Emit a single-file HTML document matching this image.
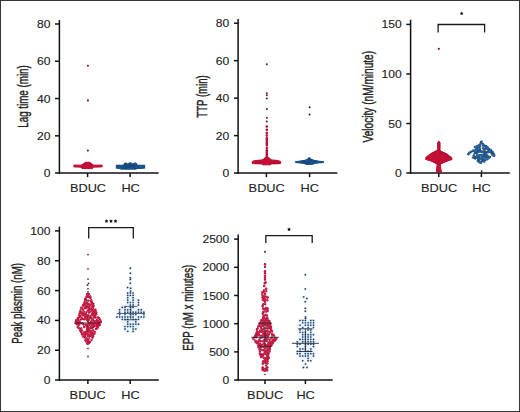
<!DOCTYPE html>
<html><head><meta charset="utf-8"><style>
html,body{margin:0;padding:0;background:#fff;}
#c{position:relative;width:520px;height:412px;overflow:hidden;background:#fff;}
#c svg{position:absolute;left:0;top:0;}
#b{position:absolute;left:0;top:0;width:518px;height:410px;border:1px solid #363636;}
text{font-family:"Liberation Sans", sans-serif;fill:#222;stroke:#222;stroke-width:0.12px;} text.v{stroke-width:0.32px;}
</style></head><body><div id="c">
<svg width="520" height="412" viewBox="0 0 520 412">
<line x1="59.40" y1="20.00" x2="59.40" y2="173.80" stroke="#111" stroke-width="1.5"/>
<line x1="55.00" y1="173.10" x2="158.60" y2="173.10" stroke="#111" stroke-width="1.5"/>
<text transform="translate(50.50,177.10) scale(1.1,1)" text-anchor="end" font-size="11">0</text>
<line x1="55.00" y1="135.82" x2="59.40" y2="135.82" stroke="#111" stroke-width="1.5"/>
<text transform="translate(50.50,139.82) scale(1.1,1)" text-anchor="end" font-size="11">20</text>
<line x1="55.00" y1="98.55" x2="59.40" y2="98.55" stroke="#111" stroke-width="1.5"/>
<text transform="translate(50.50,102.55) scale(1.1,1)" text-anchor="end" font-size="11">40</text>
<line x1="55.00" y1="61.27" x2="59.40" y2="61.27" stroke="#111" stroke-width="1.5"/>
<text transform="translate(50.50,65.27) scale(1.1,1)" text-anchor="end" font-size="11">60</text>
<line x1="55.00" y1="24.00" x2="59.40" y2="24.00" stroke="#111" stroke-width="1.5"/>
<text transform="translate(50.50,28.00) scale(1.1,1)" text-anchor="end" font-size="11">80</text>
<line x1="87.60" y1="173.10" x2="87.60" y2="177.10" stroke="#111" stroke-width="1.5"/>
<line x1="130.10" y1="173.10" x2="130.10" y2="177.10" stroke="#111" stroke-width="1.5"/>
<text transform="translate(88.00,192.00) scale(1.16,1)" text-anchor="middle" font-size="11">BDUC</text>
<text transform="translate(130.60,192.00) scale(1.16,1)" text-anchor="middle" font-size="11">HC</text>
<text class="v" transform="translate(28.40,96.50) scale(1.26,1) rotate(-90)" text-anchor="middle" font-size="11" textLength="62.5" lengthAdjust="spacingAndGlyphs">Lag time (min)</text>
<line x1="238.10" y1="18.90" x2="238.10" y2="173.80" stroke="#111" stroke-width="1.5"/>
<line x1="234.00" y1="173.10" x2="337.30" y2="173.10" stroke="#111" stroke-width="1.5"/>
<text transform="translate(229.20,177.10) scale(1.1,1)" text-anchor="end" font-size="11">0</text>
<line x1="234.00" y1="135.62" x2="238.10" y2="135.62" stroke="#111" stroke-width="1.5"/>
<text transform="translate(229.20,139.62) scale(1.1,1)" text-anchor="end" font-size="11">20</text>
<line x1="234.00" y1="98.15" x2="238.10" y2="98.15" stroke="#111" stroke-width="1.5"/>
<text transform="translate(229.20,102.15) scale(1.1,1)" text-anchor="end" font-size="11">40</text>
<line x1="234.00" y1="60.67" x2="238.10" y2="60.67" stroke="#111" stroke-width="1.5"/>
<text transform="translate(229.20,64.67) scale(1.1,1)" text-anchor="end" font-size="11">60</text>
<line x1="234.00" y1="23.20" x2="238.10" y2="23.20" stroke="#111" stroke-width="1.5"/>
<text transform="translate(229.20,27.20) scale(1.1,1)" text-anchor="end" font-size="11">80</text>
<line x1="266.40" y1="173.10" x2="266.40" y2="177.10" stroke="#111" stroke-width="1.5"/>
<line x1="309.60" y1="173.10" x2="309.60" y2="177.10" stroke="#111" stroke-width="1.5"/>
<text transform="translate(266.70,192.00) scale(1.16,1)" text-anchor="middle" font-size="11">BDUC</text>
<text transform="translate(309.70,192.00) scale(1.16,1)" text-anchor="middle" font-size="11">HC</text>
<text class="v" transform="translate(206.60,96.50) scale(1.26,1) rotate(-90)" text-anchor="middle" font-size="11" textLength="42.5" lengthAdjust="spacingAndGlyphs">TTP (min)</text>
<line x1="410.60" y1="19.70" x2="410.60" y2="173.80" stroke="#111" stroke-width="1.5"/>
<line x1="406.30" y1="173.10" x2="509.80" y2="173.10" stroke="#111" stroke-width="1.5"/>
<text transform="translate(401.70,177.10) scale(1.1,1)" text-anchor="end" font-size="11">0</text>
<line x1="406.30" y1="123.53" x2="410.60" y2="123.53" stroke="#111" stroke-width="1.5"/>
<text transform="translate(401.70,127.53) scale(1.1,1)" text-anchor="end" font-size="11">50</text>
<line x1="406.30" y1="73.97" x2="410.60" y2="73.97" stroke="#111" stroke-width="1.5"/>
<text transform="translate(401.70,77.97) scale(1.1,1)" text-anchor="end" font-size="11">100</text>
<line x1="406.30" y1="24.40" x2="410.60" y2="24.40" stroke="#111" stroke-width="1.5"/>
<text transform="translate(401.70,28.40) scale(1.1,1)" text-anchor="end" font-size="11">150</text>
<line x1="438.80" y1="173.10" x2="438.80" y2="177.10" stroke="#111" stroke-width="1.5"/>
<line x1="481.40" y1="173.10" x2="481.40" y2="177.10" stroke="#111" stroke-width="1.5"/>
<text transform="translate(439.10,192.00) scale(1.16,1)" text-anchor="middle" font-size="11">BDUC</text>
<text transform="translate(481.40,192.00) scale(1.16,1)" text-anchor="middle" font-size="11">HC</text>
<text class="v" transform="translate(372.70,96.70) scale(1.26,1) rotate(-90)" text-anchor="middle" font-size="11" textLength="91.6" lengthAdjust="spacingAndGlyphs">Velocity (nM/minute)</text>
<path d="M438.10 32.60 V24.50 H484.60 V32.60" fill="none" stroke="#1a1a1a" stroke-width="1.3"/>
<polygon points="461.70,11.55 462.33,12.63 463.55,12.90 462.72,13.83 462.85,15.08 461.70,14.57 460.55,15.08 460.68,13.83 459.85,12.90 461.07,12.63" fill="#111"/>
<line x1="59.40" y1="226.60" x2="59.40" y2="380.80" stroke="#111" stroke-width="1.5"/>
<line x1="55.00" y1="380.10" x2="158.80" y2="380.10" stroke="#111" stroke-width="1.5"/>
<text transform="translate(50.50,384.10) scale(1.1,1)" text-anchor="end" font-size="11">0</text>
<line x1="55.00" y1="350.26" x2="59.40" y2="350.26" stroke="#111" stroke-width="1.5"/>
<text transform="translate(50.50,354.26) scale(1.1,1)" text-anchor="end" font-size="11">20</text>
<line x1="55.00" y1="320.42" x2="59.40" y2="320.42" stroke="#111" stroke-width="1.5"/>
<text transform="translate(50.50,324.42) scale(1.1,1)" text-anchor="end" font-size="11">40</text>
<line x1="55.00" y1="290.58" x2="59.40" y2="290.58" stroke="#111" stroke-width="1.5"/>
<text transform="translate(50.50,294.58) scale(1.1,1)" text-anchor="end" font-size="11">60</text>
<line x1="55.00" y1="260.74" x2="59.40" y2="260.74" stroke="#111" stroke-width="1.5"/>
<text transform="translate(50.50,264.74) scale(1.1,1)" text-anchor="end" font-size="11">80</text>
<line x1="55.00" y1="230.90" x2="59.40" y2="230.90" stroke="#111" stroke-width="1.5"/>
<text transform="translate(50.50,234.90) scale(1.1,1)" text-anchor="end" font-size="11">100</text>
<line x1="87.90" y1="380.10" x2="87.90" y2="384.10" stroke="#111" stroke-width="1.5"/>
<line x1="130.20" y1="380.10" x2="130.20" y2="384.10" stroke="#111" stroke-width="1.5"/>
<text transform="translate(87.70,398.80) scale(1.16,1)" text-anchor="middle" font-size="11">BDUC</text>
<text transform="translate(130.40,398.80) scale(1.16,1)" text-anchor="middle" font-size="11">HC</text>
<text class="v" transform="translate(22.40,303.40) scale(1.26,1) rotate(-90)" text-anchor="middle" font-size="11" textLength="80.6" lengthAdjust="spacingAndGlyphs">Peak plasmin (nM)</text>
<path d="M88.70 238.50 V227.60 H133.30 V238.50" fill="none" stroke="#1a1a1a" stroke-width="1.3"/>
<polygon points="106.50,219.25 107.13,220.33 108.35,220.60 107.52,221.53 107.65,222.78 106.50,222.27 105.35,222.78 105.48,221.53 104.65,220.60 105.87,220.33" fill="#111"/>
<polygon points="111.00,219.25 111.63,220.33 112.85,220.60 112.02,221.53 112.15,222.78 111.00,222.27 109.85,222.78 109.98,221.53 109.15,220.60 110.37,220.33" fill="#111"/>
<polygon points="115.50,219.25 116.13,220.33 117.35,220.60 116.52,221.53 116.65,222.78 115.50,222.27 114.35,222.78 114.48,221.53 113.65,220.60 114.87,220.33" fill="#111"/>
<line x1="238.20" y1="234.60" x2="238.20" y2="380.80" stroke="#111" stroke-width="1.5"/>
<line x1="234.10" y1="380.10" x2="332.70" y2="380.10" stroke="#111" stroke-width="1.5"/>
<text transform="translate(229.30,384.10) scale(1.1,1)" text-anchor="end" font-size="11">0</text>
<line x1="234.10" y1="351.90" x2="238.20" y2="351.90" stroke="#111" stroke-width="1.5"/>
<text transform="translate(229.30,355.90) scale(1.1,1)" text-anchor="end" font-size="11">500</text>
<line x1="234.10" y1="323.70" x2="238.20" y2="323.70" stroke="#111" stroke-width="1.5"/>
<text transform="translate(229.30,327.70) scale(1.1,1)" text-anchor="end" font-size="11">1000</text>
<line x1="234.10" y1="295.50" x2="238.20" y2="295.50" stroke="#111" stroke-width="1.5"/>
<text transform="translate(229.30,299.50) scale(1.1,1)" text-anchor="end" font-size="11">1500</text>
<line x1="234.10" y1="267.30" x2="238.20" y2="267.30" stroke="#111" stroke-width="1.5"/>
<text transform="translate(229.30,271.30) scale(1.1,1)" text-anchor="end" font-size="11">2000</text>
<line x1="234.10" y1="239.10" x2="238.20" y2="239.10" stroke="#111" stroke-width="1.5"/>
<text transform="translate(229.30,243.10) scale(1.1,1)" text-anchor="end" font-size="11">2500</text>
<line x1="265.00" y1="380.10" x2="265.00" y2="384.10" stroke="#111" stroke-width="1.5"/>
<line x1="305.40" y1="380.10" x2="305.40" y2="384.10" stroke="#111" stroke-width="1.5"/>
<text transform="translate(265.20,398.80) scale(1.16,1)" text-anchor="middle" font-size="11">BDUC</text>
<text transform="translate(305.60,398.80) scale(1.16,1)" text-anchor="middle" font-size="11">HC</text>
<text class="v" transform="translate(193.40,307.70) scale(1.26,1) rotate(-90)" text-anchor="middle" font-size="11" textLength="85.9" lengthAdjust="spacingAndGlyphs">EPP (nM x minutes)</text>
<path d="M265.80 243.10 V235.60 H312.20 V243.10" fill="none" stroke="#1a1a1a" stroke-width="1.3"/>
<polygon points="289.00,227.45 289.63,228.53 290.85,228.80 290.02,229.73 290.15,230.98 289.00,230.47 287.85,230.98 287.98,229.73 287.15,228.80 288.37,228.53" fill="#111"/>
<polygon points="85.50,162.20 89.80,162.20 91.70,163.70 93.50,164.90 102.20,164.90 102.20,167.10 93.50,167.30 92.50,168.60 82.00,168.60 80.90,167.30 73.80,167.10 73.80,164.90 82.00,164.90 83.10,163.70 85.50,162.20" fill="#9a1438" stroke="#9a1438" stroke-width="0.60" stroke-linejoin="round"/>
<circle cx="88.00" cy="163.62" r="1.30" fill="#9a1438"/>
<circle cx="87.28" cy="165.43" r="1.30" fill="#9a1438"/>
<circle cx="84.31" cy="166.95" r="1.30" fill="#9a1438"/>
<circle cx="85.97" cy="166.88" r="1.30" fill="#9a1438"/>
<circle cx="87.98" cy="167.03" r="1.30" fill="#9a1438"/>
<circle cx="91.86" cy="167.15" r="1.30" fill="#9a1438"/>
<circle cx="81.76" cy="166.00" r="1.30" fill="#9a1438"/>
<circle cx="85.10" cy="167.38" r="1.30" fill="#9a1438"/>
<circle cx="87.06" cy="167.39" r="1.30" fill="#9a1438"/>
<circle cx="89.11" cy="167.53" r="1.30" fill="#9a1438"/>
<circle cx="90.79" cy="167.43" r="1.30" fill="#9a1438"/>
<circle cx="86.39" cy="163.35" r="1.30" fill="#9a1438"/>
<circle cx="83.21" cy="165.43" r="1.30" fill="#9a1438"/>
<polygon points="85.50,162.20 89.80,162.20 91.70,163.70 93.50,164.90 102.20,164.90 102.20,167.10 93.50,167.30 92.50,168.60 82.00,168.60 80.90,167.30 73.80,167.10 73.80,164.90 82.00,164.90 83.10,163.70 85.50,162.20" fill="#cc0f35"/>
<circle cx="86.01" cy="163.86" r="1.00" fill="#cc0f35" stroke="#9a1438" stroke-width="0.48"/>
<circle cx="88.00" cy="163.62" r="1.0" fill="#cc0f35"/>
<circle cx="83.27" cy="165.23" r="1.00" fill="#cc0f35" stroke="#9a1438" stroke-width="0.48"/>
<circle cx="85.33" cy="165.25" r="1.00" fill="#cc0f35" stroke="#9a1438" stroke-width="0.48"/>
<circle cx="87.28" cy="165.43" r="1.0" fill="#cc0f35"/>
<circle cx="91.04" cy="165.32" r="1.00" fill="#cc0f35" stroke="#9a1438" stroke-width="0.48"/>
<circle cx="82.27" cy="167.13" r="1.00" fill="#cc0f35" stroke="#9a1438" stroke-width="0.48"/>
<circle cx="84.31" cy="166.95" r="1.0" fill="#cc0f35"/>
<circle cx="85.97" cy="166.88" r="1.0" fill="#cc0f35"/>
<circle cx="87.98" cy="167.03" r="1.0" fill="#cc0f35"/>
<circle cx="90.07" cy="167.08" r="1.00" fill="#cc0f35" stroke="#9a1438" stroke-width="0.48"/>
<circle cx="91.86" cy="167.15" r="1.0" fill="#cc0f35"/>
<circle cx="81.76" cy="166.00" r="1.0" fill="#cc0f35"/>
<circle cx="82.86" cy="167.35" r="1.00" fill="#cc0f35" stroke="#9a1438" stroke-width="0.48"/>
<circle cx="85.10" cy="167.38" r="1.0" fill="#cc0f35"/>
<circle cx="87.06" cy="167.39" r="1.0" fill="#cc0f35"/>
<circle cx="89.11" cy="167.53" r="1.0" fill="#cc0f35"/>
<circle cx="90.79" cy="167.43" r="1.0" fill="#cc0f35"/>
<circle cx="90.23" cy="164.23" r="1.00" fill="#cc0f35" stroke="#9a1438" stroke-width="0.48"/>
<circle cx="88.40" cy="163.30" r="1.00" fill="#cc0f35" stroke="#9a1438" stroke-width="0.48"/>
<circle cx="86.39" cy="163.35" r="1.0" fill="#cc0f35"/>
<circle cx="83.21" cy="165.43" r="1.0" fill="#cc0f35"/>
<circle cx="87.90" cy="65.70" r="1.05" fill="#6e1a36"/>
<circle cx="87.90" cy="100.40" r="1.05" fill="#6e1a36"/>
<circle cx="87.90" cy="150.60" r="1.05" fill="#6e1a36"/>
<polygon points="124.70,162.90 126.70,162.90 127.50,164.00 129.30,162.80 131.30,162.80 132.50,164.00 134.20,162.90 136.20,162.90 137.50,165.10 144.80,165.10 144.80,168.20 138.00,168.40 136.00,169.20 121.00,169.20 119.00,168.40 116.20,168.20 116.20,165.10 123.50,165.10 124.70,162.90" fill="#153c66" stroke="#153c66" stroke-width="0.60" stroke-linejoin="round"/>
<circle cx="125.67" cy="165.94" r="1.30" fill="#153c66"/>
<circle cx="133.25" cy="166.03" r="1.30" fill="#153c66"/>
<circle cx="135.21" cy="166.05" r="1.30" fill="#153c66"/>
<circle cx="121.11" cy="167.71" r="1.30" fill="#153c66"/>
<circle cx="132.21" cy="167.50" r="1.30" fill="#153c66"/>
<circle cx="134.10" cy="167.74" r="1.30" fill="#153c66"/>
<circle cx="122.64" cy="166.36" r="1.30" fill="#153c66"/>
<circle cx="117.46" cy="166.96" r="1.30" fill="#153c66"/>
<circle cx="119.34" cy="167.36" r="1.30" fill="#153c66"/>
<circle cx="124.83" cy="167.96" r="1.30" fill="#153c66"/>
<circle cx="129.04" cy="167.93" r="1.30" fill="#153c66"/>
<circle cx="136.67" cy="167.76" r="1.30" fill="#153c66"/>
<circle cx="140.62" cy="167.19" r="1.30" fill="#153c66"/>
<circle cx="142.28" cy="167.14" r="1.30" fill="#153c66"/>
<circle cx="139.41" cy="166.53" r="1.30" fill="#153c66"/>
<circle cx="137.34" cy="166.21" r="1.30" fill="#153c66"/>
<circle cx="134.96" cy="164.34" r="1.30" fill="#153c66"/>
<circle cx="130.03" cy="164.22" r="1.30" fill="#153c66"/>
<polygon points="124.70,162.90 126.70,162.90 127.50,164.00 129.30,162.80 131.30,162.80 132.50,164.00 134.20,162.90 136.20,162.90 137.50,165.10 144.80,165.10 144.80,168.20 138.00,168.40 136.00,169.20 121.00,169.20 119.00,168.40 116.20,168.20 116.20,165.10 123.50,165.10 124.70,162.90" fill="#18558f"/>
<circle cx="125.67" cy="165.94" r="1.0" fill="#18558f"/>
<circle cx="129.37" cy="165.89" r="1.00" fill="#18558f" stroke="#153c66" stroke-width="0.48"/>
<circle cx="131.44" cy="165.91" r="1.00" fill="#18558f" stroke="#153c66" stroke-width="0.48"/>
<circle cx="133.25" cy="166.03" r="1.0" fill="#18558f"/>
<circle cx="135.21" cy="166.05" r="1.0" fill="#18558f"/>
<circle cx="121.11" cy="167.71" r="1.0" fill="#18558f"/>
<circle cx="122.81" cy="167.56" r="1.00" fill="#18558f" stroke="#153c66" stroke-width="0.48"/>
<circle cx="124.57" cy="167.43" r="1.00" fill="#18558f" stroke="#153c66" stroke-width="0.48"/>
<circle cx="126.59" cy="167.42" r="1.00" fill="#18558f" stroke="#153c66" stroke-width="0.48"/>
<circle cx="128.39" cy="167.55" r="1.00" fill="#18558f" stroke="#153c66" stroke-width="0.48"/>
<circle cx="132.21" cy="167.50" r="1.0" fill="#18558f"/>
<circle cx="134.10" cy="167.74" r="1.0" fill="#18558f"/>
<circle cx="136.14" cy="167.43" r="1.00" fill="#18558f" stroke="#153c66" stroke-width="0.48"/>
<circle cx="125.35" cy="164.28" r="1.00" fill="#18558f" stroke="#153c66" stroke-width="0.48"/>
<circle cx="124.68" cy="165.88" r="1.00" fill="#18558f" stroke="#153c66" stroke-width="0.48"/>
<circle cx="122.64" cy="166.36" r="1.0" fill="#18558f"/>
<circle cx="118.82" cy="166.30" r="1.00" fill="#18558f" stroke="#153c66" stroke-width="0.48"/>
<circle cx="117.46" cy="166.96" r="1.0" fill="#18558f"/>
<circle cx="119.34" cy="167.36" r="1.0" fill="#18558f"/>
<circle cx="124.83" cy="167.96" r="1.0" fill="#18558f"/>
<circle cx="126.71" cy="167.86" r="1.00" fill="#18558f" stroke="#153c66" stroke-width="0.48"/>
<circle cx="129.04" cy="167.93" r="1.0" fill="#18558f"/>
<circle cx="134.62" cy="167.84" r="1.00" fill="#18558f" stroke="#153c66" stroke-width="0.48"/>
<circle cx="136.67" cy="167.76" r="1.0" fill="#18558f"/>
<circle cx="138.56" cy="167.25" r="1.00" fill="#18558f" stroke="#153c66" stroke-width="0.48"/>
<circle cx="140.62" cy="167.19" r="1.0" fill="#18558f"/>
<circle cx="142.28" cy="167.14" r="1.0" fill="#18558f"/>
<circle cx="139.41" cy="166.53" r="1.0" fill="#18558f"/>
<circle cx="137.34" cy="166.21" r="1.0" fill="#18558f"/>
<circle cx="134.96" cy="164.34" r="1.0" fill="#18558f"/>
<circle cx="133.16" cy="164.92" r="1.00" fill="#18558f" stroke="#153c66" stroke-width="0.48"/>
<circle cx="130.03" cy="164.22" r="1.0" fill="#18558f"/>
<polygon points="265.70,156.70 268.10,156.70 269.60,158.50 271.60,159.70 276.00,160.20 279.00,160.80 280.70,161.40 280.70,163.50 279.00,163.80 271.40,164.10 270.30,165.00 263.00,165.00 262.00,164.10 254.00,163.80 252.20,163.50 252.20,161.40 254.00,160.80 258.00,160.20 262.30,159.70 264.30,158.50 265.70,156.70" fill="#9a1438" stroke="#9a1438" stroke-width="0.60" stroke-linejoin="round"/>
<circle cx="269.28" cy="159.93" r="1.30" fill="#9a1438"/>
<circle cx="259.02" cy="161.50" r="1.30" fill="#9a1438"/>
<circle cx="262.77" cy="161.37" r="1.30" fill="#9a1438"/>
<circle cx="264.57" cy="161.43" r="1.30" fill="#9a1438"/>
<circle cx="266.56" cy="161.34" r="1.30" fill="#9a1438"/>
<circle cx="268.26" cy="161.61" r="1.30" fill="#9a1438"/>
<circle cx="270.35" cy="161.66" r="1.30" fill="#9a1438"/>
<circle cx="272.15" cy="161.50" r="1.30" fill="#9a1438"/>
<circle cx="274.06" cy="161.49" r="1.30" fill="#9a1438"/>
<circle cx="267.47" cy="163.21" r="1.30" fill="#9a1438"/>
<circle cx="263.67" cy="160.40" r="1.30" fill="#9a1438"/>
<circle cx="257.89" cy="161.48" r="1.30" fill="#9a1438"/>
<circle cx="254.11" cy="161.88" r="1.30" fill="#9a1438"/>
<circle cx="254.49" cy="162.39" r="1.30" fill="#9a1438"/>
<circle cx="262.31" cy="162.88" r="1.30" fill="#9a1438"/>
<circle cx="263.54" cy="163.83" r="1.30" fill="#9a1438"/>
<circle cx="265.80" cy="163.80" r="1.30" fill="#9a1438"/>
<circle cx="267.68" cy="163.58" r="1.30" fill="#9a1438"/>
<circle cx="269.39" cy="163.77" r="1.30" fill="#9a1438"/>
<circle cx="278.51" cy="162.65" r="1.30" fill="#9a1438"/>
<circle cx="274.74" cy="161.45" r="1.30" fill="#9a1438"/>
<circle cx="272.92" cy="161.29" r="1.30" fill="#9a1438"/>
<circle cx="269.39" cy="159.76" r="1.30" fill="#9a1438"/>
<circle cx="267.82" cy="158.32" r="1.30" fill="#9a1438"/>
<circle cx="266.80" cy="126.50" r="1.25" fill="#9a1438"/>
<circle cx="266.80" cy="129.80" r="1.25" fill="#9a1438"/>
<circle cx="266.80" cy="133.00" r="1.25" fill="#9a1438"/>
<circle cx="266.80" cy="135.60" r="1.25" fill="#9a1438"/>
<circle cx="266.80" cy="138.20" r="1.25" fill="#9a1438"/>
<circle cx="266.80" cy="140.00" r="1.25" fill="#9a1438"/>
<circle cx="266.80" cy="141.70" r="1.25" fill="#9a1438"/>
<circle cx="266.80" cy="143.40" r="1.25" fill="#9a1438"/>
<circle cx="266.80" cy="145.10" r="1.25" fill="#9a1438"/>
<circle cx="266.80" cy="147.70" r="1.25" fill="#9a1438"/>
<circle cx="266.80" cy="150.30" r="1.25" fill="#9a1438"/>
<circle cx="266.80" cy="152.00" r="1.25" fill="#9a1438"/>
<circle cx="266.80" cy="153.70" r="1.25" fill="#9a1438"/>
<circle cx="266.80" cy="155.50" r="1.25" fill="#9a1438"/>
<polygon points="265.70,156.70 268.10,156.70 269.60,158.50 271.60,159.70 276.00,160.20 279.00,160.80 280.70,161.40 280.70,163.50 279.00,163.80 271.40,164.10 270.30,165.00 263.00,165.00 262.00,164.10 254.00,163.80 252.20,163.50 252.20,161.40 254.00,160.80 258.00,160.20 262.30,159.70 264.30,158.50 265.70,156.70" fill="#cc0f35"/>
<circle cx="266.35" cy="158.22" r="1.00" fill="#cc0f35" stroke="#9a1438" stroke-width="0.48"/>
<circle cx="265.40" cy="159.87" r="1.00" fill="#cc0f35" stroke="#9a1438" stroke-width="0.48"/>
<circle cx="269.28" cy="159.93" r="1.0" fill="#cc0f35"/>
<circle cx="259.02" cy="161.50" r="1.0" fill="#cc0f35"/>
<circle cx="260.56" cy="161.48" r="1.00" fill="#cc0f35" stroke="#9a1438" stroke-width="0.48"/>
<circle cx="262.77" cy="161.37" r="1.0" fill="#cc0f35"/>
<circle cx="264.57" cy="161.43" r="1.0" fill="#cc0f35"/>
<circle cx="266.56" cy="161.34" r="1.0" fill="#cc0f35"/>
<circle cx="268.26" cy="161.61" r="1.0" fill="#cc0f35"/>
<circle cx="270.35" cy="161.66" r="1.0" fill="#cc0f35"/>
<circle cx="272.15" cy="161.50" r="1.0" fill="#cc0f35"/>
<circle cx="274.06" cy="161.49" r="1.0" fill="#cc0f35"/>
<circle cx="276.10" cy="161.68" r="1.00" fill="#cc0f35" stroke="#9a1438" stroke-width="0.48"/>
<circle cx="263.78" cy="163.24" r="1.00" fill="#cc0f35" stroke="#9a1438" stroke-width="0.48"/>
<circle cx="265.48" cy="162.93" r="1.00" fill="#cc0f35" stroke="#9a1438" stroke-width="0.48"/>
<circle cx="267.47" cy="163.21" r="1.0" fill="#cc0f35"/>
<circle cx="269.39" cy="163.16" r="1.00" fill="#cc0f35" stroke="#9a1438" stroke-width="0.48"/>
<circle cx="263.67" cy="160.40" r="1.0" fill="#cc0f35"/>
<circle cx="257.89" cy="161.48" r="1.0" fill="#cc0f35"/>
<circle cx="255.95" cy="161.85" r="1.00" fill="#cc0f35" stroke="#9a1438" stroke-width="0.48"/>
<circle cx="254.11" cy="161.88" r="1.0" fill="#cc0f35"/>
<circle cx="254.49" cy="162.39" r="1.0" fill="#cc0f35"/>
<circle cx="256.59" cy="162.48" r="1.00" fill="#cc0f35" stroke="#9a1438" stroke-width="0.48"/>
<circle cx="258.43" cy="162.62" r="1.00" fill="#cc0f35" stroke="#9a1438" stroke-width="0.48"/>
<circle cx="260.39" cy="162.91" r="1.00" fill="#cc0f35" stroke="#9a1438" stroke-width="0.48"/>
<circle cx="262.31" cy="162.88" r="1.0" fill="#cc0f35"/>
<circle cx="263.54" cy="163.83" r="1.0" fill="#cc0f35"/>
<circle cx="265.80" cy="163.80" r="1.0" fill="#cc0f35"/>
<circle cx="267.68" cy="163.58" r="1.0" fill="#cc0f35"/>
<circle cx="269.39" cy="163.77" r="1.0" fill="#cc0f35"/>
<circle cx="270.90" cy="162.87" r="1.00" fill="#cc0f35" stroke="#9a1438" stroke-width="0.48"/>
<circle cx="272.83" cy="162.61" r="1.00" fill="#cc0f35" stroke="#9a1438" stroke-width="0.48"/>
<circle cx="274.80" cy="162.82" r="1.00" fill="#cc0f35" stroke="#9a1438" stroke-width="0.48"/>
<circle cx="276.66" cy="162.58" r="1.00" fill="#cc0f35" stroke="#9a1438" stroke-width="0.48"/>
<circle cx="278.51" cy="162.65" r="1.0" fill="#cc0f35"/>
<circle cx="278.50" cy="162.15" r="1.00" fill="#cc0f35" stroke="#9a1438" stroke-width="0.48"/>
<circle cx="274.74" cy="161.45" r="1.0" fill="#cc0f35"/>
<circle cx="272.92" cy="161.29" r="1.0" fill="#cc0f35"/>
<circle cx="269.39" cy="159.76" r="1.0" fill="#cc0f35"/>
<circle cx="267.82" cy="158.32" r="1.0" fill="#cc0f35"/>
<circle cx="266.80" cy="64.30" r="1.0" fill="#5e1934"/>
<circle cx="266.80" cy="93.30" r="1.0" fill="#5e1934"/>
<circle cx="266.80" cy="95.30" r="1.0" fill="#5e1934"/>
<circle cx="266.80" cy="98.60" r="1.0" fill="#5e1934"/>
<circle cx="266.80" cy="108.90" r="1.0" fill="#5e1934"/>
<circle cx="266.80" cy="117.80" r="1.0" fill="#5e1934"/>
<circle cx="266.80" cy="121.40" r="1.0" fill="#5e1934"/>
<circle cx="266.80" cy="126.50" r="0.95" fill="#cc0f35"/>
<circle cx="266.80" cy="129.80" r="0.95" fill="#cc0f35"/>
<circle cx="266.80" cy="133.00" r="0.95" fill="#cc0f35"/>
<circle cx="266.80" cy="135.60" r="0.95" fill="#cc0f35"/>
<circle cx="266.80" cy="138.20" r="0.95" fill="#cc0f35"/>
<circle cx="266.80" cy="140.00" r="0.95" fill="#cc0f35"/>
<circle cx="266.80" cy="141.70" r="0.95" fill="#cc0f35"/>
<circle cx="266.80" cy="143.40" r="0.95" fill="#cc0f35"/>
<circle cx="266.80" cy="145.10" r="0.95" fill="#cc0f35"/>
<circle cx="266.80" cy="147.70" r="0.95" fill="#cc0f35"/>
<circle cx="266.80" cy="150.30" r="0.95" fill="#cc0f35"/>
<circle cx="266.80" cy="152.00" r="0.95" fill="#cc0f35"/>
<circle cx="266.80" cy="153.70" r="0.95" fill="#cc0f35"/>
<circle cx="266.80" cy="155.50" r="0.95" fill="#cc0f35"/>
<polygon points="308.60,157.70 310.00,157.70 311.60,159.50 315.50,160.60 319.00,161.10 323.50,161.60 323.50,162.70 319.00,163.00 314.60,163.40 312.80,164.40 305.80,164.40 304.10,163.40 299.00,163.00 295.50,162.70 295.50,161.60 299.00,161.10 303.20,160.60 307.00,159.50 308.60,157.70" fill="#153c66" stroke="#153c66" stroke-width="0.60" stroke-linejoin="round"/>
<circle cx="308.70" cy="161.09" r="1.30" fill="#153c66"/>
<circle cx="310.50" cy="160.85" r="1.30" fill="#153c66"/>
<circle cx="309.67" cy="162.39" r="1.30" fill="#153c66"/>
<circle cx="311.75" cy="162.56" r="1.30" fill="#153c66"/>
<circle cx="304.08" cy="161.96" r="1.30" fill="#153c66"/>
<circle cx="309.55" cy="163.28" r="1.30" fill="#153c66"/>
<circle cx="313.45" cy="162.77" r="1.30" fill="#153c66"/>
<circle cx="314.90" cy="161.95" r="1.30" fill="#153c66"/>
<circle cx="315.84" cy="161.92" r="1.30" fill="#153c66"/>
<circle cx="312.08" cy="160.91" r="1.30" fill="#153c66"/>
<circle cx="307.90" cy="160.59" r="1.30" fill="#153c66"/>
<circle cx="305.93" cy="161.24" r="1.30" fill="#153c66"/>
<polygon points="308.60,157.70 310.00,157.70 311.60,159.50 315.50,160.60 319.00,161.10 323.50,161.60 323.50,162.70 319.00,163.00 314.60,163.40 312.80,164.40 305.80,164.40 304.10,163.40 299.00,163.00 295.50,162.70 295.50,161.60 299.00,161.10 303.20,160.60 307.00,159.50 308.60,157.70" fill="#18558f"/>
<circle cx="308.70" cy="161.09" r="1.0" fill="#18558f"/>
<circle cx="310.50" cy="160.85" r="1.0" fill="#18558f"/>
<circle cx="305.83" cy="162.50" r="1.00" fill="#18558f" stroke="#153c66" stroke-width="0.48"/>
<circle cx="307.69" cy="162.46" r="1.00" fill="#18558f" stroke="#153c66" stroke-width="0.48"/>
<circle cx="309.67" cy="162.39" r="1.0" fill="#18558f"/>
<circle cx="311.75" cy="162.56" r="1.0" fill="#18558f"/>
<circle cx="302.03" cy="162.18" r="1.00" fill="#18558f" stroke="#153c66" stroke-width="0.48"/>
<circle cx="304.08" cy="161.96" r="1.0" fill="#18558f"/>
<circle cx="307.72" cy="163.27" r="1.00" fill="#18558f" stroke="#153c66" stroke-width="0.48"/>
<circle cx="309.55" cy="163.28" r="1.0" fill="#18558f"/>
<circle cx="313.45" cy="162.77" r="1.0" fill="#18558f"/>
<circle cx="314.90" cy="161.95" r="1.0" fill="#18558f"/>
<circle cx="315.84" cy="161.92" r="1.0" fill="#18558f"/>
<circle cx="313.91" cy="161.42" r="1.00" fill="#18558f" stroke="#153c66" stroke-width="0.48"/>
<circle cx="312.08" cy="160.91" r="1.0" fill="#18558f"/>
<circle cx="310.19" cy="160.09" r="1.00" fill="#18558f" stroke="#153c66" stroke-width="0.48"/>
<circle cx="308.89" cy="159.24" r="1.00" fill="#18558f" stroke="#153c66" stroke-width="0.48"/>
<circle cx="307.90" cy="160.59" r="1.0" fill="#18558f"/>
<circle cx="305.93" cy="161.24" r="1.0" fill="#18558f"/>
<circle cx="303.83" cy="161.53" r="1.00" fill="#18558f" stroke="#153c66" stroke-width="0.48"/>
<circle cx="309.60" cy="107.20" r="1.0" fill="#141d2b"/>
<circle cx="309.50" cy="114.50" r="1.0" fill="#141d2b"/>
<polygon points="438.30,141.40 439.50,141.40 440.10,143.00 440.00,149.80 440.60,150.90 443.40,152.30 446.90,153.80 448.80,155.50 451.20,157.20 452.20,159.50 447.60,161.00 443.60,162.70 440.30,164.20 440.70,168.50 441.60,172.30 436.20,172.30 436.70,168.50 437.00,164.20 434.40,162.70 430.90,161.00 425.70,159.50 425.80,157.20 428.20,155.50 430.60,153.80 433.00,152.30 436.00,150.90 437.70,149.80 437.70,143.00 438.30,141.40" fill="#9a1438" stroke="#9a1438" stroke-width="0.70" stroke-linejoin="round"/>
<circle cx="436.94" cy="151.56" r="1.35" fill="#9a1438"/>
<circle cx="438.84" cy="151.49" r="1.35" fill="#9a1438"/>
<circle cx="436.13" cy="153.27" r="1.35" fill="#9a1438"/>
<circle cx="437.86" cy="153.48" r="1.35" fill="#9a1438"/>
<circle cx="439.88" cy="153.25" r="1.35" fill="#9a1438"/>
<circle cx="441.74" cy="153.33" r="1.35" fill="#9a1438"/>
<circle cx="433.24" cy="154.88" r="1.35" fill="#9a1438"/>
<circle cx="437.19" cy="155.15" r="1.35" fill="#9a1438"/>
<circle cx="442.76" cy="155.06" r="1.35" fill="#9a1438"/>
<circle cx="432.27" cy="156.57" r="1.35" fill="#9a1438"/>
<circle cx="438.13" cy="156.54" r="1.35" fill="#9a1438"/>
<circle cx="442.05" cy="156.58" r="1.35" fill="#9a1438"/>
<circle cx="443.73" cy="156.82" r="1.35" fill="#9a1438"/>
<circle cx="447.48" cy="156.79" r="1.35" fill="#9a1438"/>
<circle cx="431.26" cy="158.49" r="1.35" fill="#9a1438"/>
<circle cx="435.10" cy="158.51" r="1.35" fill="#9a1438"/>
<circle cx="438.82" cy="158.25" r="1.35" fill="#9a1438"/>
<circle cx="442.72" cy="158.27" r="1.35" fill="#9a1438"/>
<circle cx="444.71" cy="158.54" r="1.35" fill="#9a1438"/>
<circle cx="446.69" cy="158.38" r="1.35" fill="#9a1438"/>
<circle cx="448.35" cy="158.25" r="1.35" fill="#9a1438"/>
<circle cx="450.58" cy="158.48" r="1.35" fill="#9a1438"/>
<circle cx="432.49" cy="159.95" r="1.35" fill="#9a1438"/>
<circle cx="434.20" cy="160.02" r="1.35" fill="#9a1438"/>
<circle cx="436.17" cy="160.00" r="1.35" fill="#9a1438"/>
<circle cx="438.18" cy="159.91" r="1.35" fill="#9a1438"/>
<circle cx="439.85" cy="159.98" r="1.35" fill="#9a1438"/>
<circle cx="441.81" cy="160.23" r="1.35" fill="#9a1438"/>
<circle cx="443.64" cy="160.04" r="1.35" fill="#9a1438"/>
<circle cx="435.19" cy="161.80" r="1.35" fill="#9a1438"/>
<circle cx="436.97" cy="161.61" r="1.35" fill="#9a1438"/>
<circle cx="441.00" cy="161.72" r="1.35" fill="#9a1438"/>
<circle cx="439.03" cy="165.08" r="1.35" fill="#9a1438"/>
<circle cx="438.23" cy="166.97" r="1.35" fill="#9a1438"/>
<circle cx="438.92" cy="168.56" r="1.35" fill="#9a1438"/>
<circle cx="437.94" cy="170.26" r="1.35" fill="#9a1438"/>
<circle cx="440.03" cy="170.12" r="1.35" fill="#9a1438"/>
<circle cx="438.83" cy="143.13" r="1.35" fill="#9a1438"/>
<circle cx="438.70" cy="144.82" r="1.35" fill="#9a1438"/>
<circle cx="438.79" cy="150.46" r="1.35" fill="#9a1438"/>
<circle cx="437.14" cy="151.68" r="1.35" fill="#9a1438"/>
<circle cx="433.47" cy="153.24" r="1.35" fill="#9a1438"/>
<circle cx="431.98" cy="154.18" r="1.35" fill="#9a1438"/>
<circle cx="430.57" cy="155.08" r="1.35" fill="#9a1438"/>
<circle cx="428.83" cy="156.50" r="1.35" fill="#9a1438"/>
<circle cx="427.45" cy="158.79" r="1.35" fill="#9a1438"/>
<circle cx="429.11" cy="159.20" r="1.35" fill="#9a1438"/>
<circle cx="431.11" cy="159.72" r="1.35" fill="#9a1438"/>
<circle cx="432.64" cy="160.83" r="1.35" fill="#9a1438"/>
<circle cx="434.33" cy="161.46" r="1.35" fill="#9a1438"/>
<circle cx="438.15" cy="164.88" r="1.35" fill="#9a1438"/>
<circle cx="437.88" cy="168.86" r="1.35" fill="#9a1438"/>
<circle cx="438.82" cy="171.34" r="1.35" fill="#9a1438"/>
<circle cx="439.92" cy="170.70" r="1.35" fill="#9a1438"/>
<circle cx="439.79" cy="168.78" r="1.35" fill="#9a1438"/>
<circle cx="439.35" cy="166.88" r="1.35" fill="#9a1438"/>
<circle cx="439.28" cy="165.10" r="1.35" fill="#9a1438"/>
<circle cx="443.05" cy="161.88" r="1.35" fill="#9a1438"/>
<circle cx="444.77" cy="160.87" r="1.35" fill="#9a1438"/>
<circle cx="446.70" cy="160.20" r="1.35" fill="#9a1438"/>
<circle cx="448.47" cy="159.54" r="1.35" fill="#9a1438"/>
<circle cx="450.03" cy="158.86" r="1.35" fill="#9a1438"/>
<circle cx="450.12" cy="157.82" r="1.35" fill="#9a1438"/>
<circle cx="438.98" cy="150.68" r="1.35" fill="#9a1438"/>
<circle cx="438.99" cy="146.90" r="1.35" fill="#9a1438"/>
<polygon points="438.30,141.40 439.50,141.40 440.10,143.00 440.00,149.80 440.60,150.90 443.40,152.30 446.90,153.80 448.80,155.50 451.20,157.20 452.20,159.50 447.60,161.00 443.60,162.70 440.30,164.20 440.70,168.50 441.60,172.30 436.20,172.30 436.70,168.50 437.00,164.20 434.40,162.70 430.90,161.00 425.70,159.50 425.80,157.20 428.20,155.50 430.60,153.80 433.00,152.30 436.00,150.90 437.70,149.80 437.70,143.00 438.30,141.40" fill="#cc0f35"/>
<circle cx="436.94" cy="151.56" r="1.0" fill="#cc0f35"/>
<circle cx="438.84" cy="151.49" r="1.0" fill="#cc0f35"/>
<circle cx="434.35" cy="153.36" r="1.00" fill="#cc0f35" stroke="#9a1438" stroke-width="0.56"/>
<circle cx="436.13" cy="153.27" r="1.0" fill="#cc0f35"/>
<circle cx="437.86" cy="153.48" r="1.0" fill="#cc0f35"/>
<circle cx="439.88" cy="153.25" r="1.0" fill="#cc0f35"/>
<circle cx="441.74" cy="153.33" r="1.0" fill="#cc0f35"/>
<circle cx="433.24" cy="154.88" r="1.0" fill="#cc0f35"/>
<circle cx="437.19" cy="155.15" r="1.0" fill="#cc0f35"/>
<circle cx="439.12" cy="155.09" r="1.00" fill="#cc0f35" stroke="#9a1438" stroke-width="0.56"/>
<circle cx="440.79" cy="154.82" r="1.00" fill="#cc0f35" stroke="#9a1438" stroke-width="0.56"/>
<circle cx="442.76" cy="155.06" r="1.0" fill="#cc0f35"/>
<circle cx="432.27" cy="156.57" r="1.0" fill="#cc0f35"/>
<circle cx="434.32" cy="156.54" r="1.00" fill="#cc0f35" stroke="#9a1438" stroke-width="0.56"/>
<circle cx="438.13" cy="156.54" r="1.0" fill="#cc0f35"/>
<circle cx="442.05" cy="156.58" r="1.0" fill="#cc0f35"/>
<circle cx="443.73" cy="156.82" r="1.0" fill="#cc0f35"/>
<circle cx="445.49" cy="156.89" r="1.00" fill="#cc0f35" stroke="#9a1438" stroke-width="0.56"/>
<circle cx="447.48" cy="156.79" r="1.0" fill="#cc0f35"/>
<circle cx="427.60" cy="158.52" r="1.00" fill="#cc0f35" stroke="#9a1438" stroke-width="0.56"/>
<circle cx="429.55" cy="158.45" r="1.00" fill="#cc0f35" stroke="#9a1438" stroke-width="0.56"/>
<circle cx="431.26" cy="158.49" r="1.0" fill="#cc0f35"/>
<circle cx="435.10" cy="158.51" r="1.0" fill="#cc0f35"/>
<circle cx="436.90" cy="158.35" r="1.00" fill="#cc0f35" stroke="#9a1438" stroke-width="0.56"/>
<circle cx="438.82" cy="158.25" r="1.0" fill="#cc0f35"/>
<circle cx="440.95" cy="158.28" r="1.00" fill="#cc0f35" stroke="#9a1438" stroke-width="0.56"/>
<circle cx="442.72" cy="158.27" r="1.0" fill="#cc0f35"/>
<circle cx="444.71" cy="158.54" r="1.0" fill="#cc0f35"/>
<circle cx="446.69" cy="158.38" r="1.0" fill="#cc0f35"/>
<circle cx="448.35" cy="158.25" r="1.0" fill="#cc0f35"/>
<circle cx="450.58" cy="158.48" r="1.0" fill="#cc0f35"/>
<circle cx="432.49" cy="159.95" r="1.0" fill="#cc0f35"/>
<circle cx="434.20" cy="160.02" r="1.0" fill="#cc0f35"/>
<circle cx="436.17" cy="160.00" r="1.0" fill="#cc0f35"/>
<circle cx="438.18" cy="159.91" r="1.0" fill="#cc0f35"/>
<circle cx="439.85" cy="159.98" r="1.0" fill="#cc0f35"/>
<circle cx="441.81" cy="160.23" r="1.0" fill="#cc0f35"/>
<circle cx="443.64" cy="160.04" r="1.0" fill="#cc0f35"/>
<circle cx="445.76" cy="159.93" r="1.00" fill="#cc0f35" stroke="#9a1438" stroke-width="0.56"/>
<circle cx="435.19" cy="161.80" r="1.0" fill="#cc0f35"/>
<circle cx="436.97" cy="161.61" r="1.0" fill="#cc0f35"/>
<circle cx="438.99" cy="161.60" r="1.00" fill="#cc0f35" stroke="#9a1438" stroke-width="0.56"/>
<circle cx="441.00" cy="161.72" r="1.0" fill="#cc0f35"/>
<circle cx="442.76" cy="161.91" r="1.00" fill="#cc0f35" stroke="#9a1438" stroke-width="0.56"/>
<circle cx="438.19" cy="163.52" r="1.00" fill="#cc0f35" stroke="#9a1438" stroke-width="0.56"/>
<circle cx="439.03" cy="165.08" r="1.0" fill="#cc0f35"/>
<circle cx="438.23" cy="166.97" r="1.0" fill="#cc0f35"/>
<circle cx="438.92" cy="168.56" r="1.0" fill="#cc0f35"/>
<circle cx="437.94" cy="170.26" r="1.0" fill="#cc0f35"/>
<circle cx="440.03" cy="170.12" r="1.0" fill="#cc0f35"/>
<circle cx="438.83" cy="143.13" r="1.0" fill="#cc0f35"/>
<circle cx="438.70" cy="144.82" r="1.0" fill="#cc0f35"/>
<circle cx="438.62" cy="146.66" r="1.00" fill="#cc0f35" stroke="#9a1438" stroke-width="0.56"/>
<circle cx="438.82" cy="148.62" r="1.00" fill="#cc0f35" stroke="#9a1438" stroke-width="0.56"/>
<circle cx="438.79" cy="150.46" r="1.0" fill="#cc0f35"/>
<circle cx="437.14" cy="151.68" r="1.0" fill="#cc0f35"/>
<circle cx="435.31" cy="152.27" r="1.00" fill="#cc0f35" stroke="#9a1438" stroke-width="0.56"/>
<circle cx="433.47" cy="153.24" r="1.0" fill="#cc0f35"/>
<circle cx="431.98" cy="154.18" r="1.0" fill="#cc0f35"/>
<circle cx="430.57" cy="155.08" r="1.0" fill="#cc0f35"/>
<circle cx="428.83" cy="156.50" r="1.0" fill="#cc0f35"/>
<circle cx="427.45" cy="158.79" r="1.0" fill="#cc0f35"/>
<circle cx="429.11" cy="159.20" r="1.0" fill="#cc0f35"/>
<circle cx="431.11" cy="159.72" r="1.0" fill="#cc0f35"/>
<circle cx="432.64" cy="160.83" r="1.0" fill="#cc0f35"/>
<circle cx="434.33" cy="161.46" r="1.0" fill="#cc0f35"/>
<circle cx="435.96" cy="162.30" r="1.00" fill="#cc0f35" stroke="#9a1438" stroke-width="0.56"/>
<circle cx="438.15" cy="164.88" r="1.0" fill="#cc0f35"/>
<circle cx="438.02" cy="166.91" r="1.00" fill="#cc0f35" stroke="#9a1438" stroke-width="0.56"/>
<circle cx="437.88" cy="168.86" r="1.0" fill="#cc0f35"/>
<circle cx="437.59" cy="170.73" r="1.00" fill="#cc0f35" stroke="#9a1438" stroke-width="0.56"/>
<circle cx="438.82" cy="171.34" r="1.0" fill="#cc0f35"/>
<circle cx="439.92" cy="170.70" r="1.0" fill="#cc0f35"/>
<circle cx="439.79" cy="168.78" r="1.0" fill="#cc0f35"/>
<circle cx="439.35" cy="166.88" r="1.0" fill="#cc0f35"/>
<circle cx="439.28" cy="165.10" r="1.0" fill="#cc0f35"/>
<circle cx="439.39" cy="163.38" r="1.00" fill="#cc0f35" stroke="#9a1438" stroke-width="0.56"/>
<circle cx="443.05" cy="161.88" r="1.0" fill="#cc0f35"/>
<circle cx="444.77" cy="160.87" r="1.0" fill="#cc0f35"/>
<circle cx="446.70" cy="160.20" r="1.0" fill="#cc0f35"/>
<circle cx="448.47" cy="159.54" r="1.0" fill="#cc0f35"/>
<circle cx="450.03" cy="158.86" r="1.0" fill="#cc0f35"/>
<circle cx="450.12" cy="157.82" r="1.0" fill="#cc0f35"/>
<circle cx="448.62" cy="156.74" r="1.00" fill="#cc0f35" stroke="#9a1438" stroke-width="0.56"/>
<circle cx="447.08" cy="155.30" r="1.00" fill="#cc0f35" stroke="#9a1438" stroke-width="0.56"/>
<circle cx="445.56" cy="154.51" r="1.00" fill="#cc0f35" stroke="#9a1438" stroke-width="0.56"/>
<circle cx="443.51" cy="153.58" r="1.00" fill="#cc0f35" stroke="#9a1438" stroke-width="0.56"/>
<circle cx="441.88" cy="152.94" r="1.00" fill="#cc0f35" stroke="#9a1438" stroke-width="0.56"/>
<circle cx="440.25" cy="151.82" r="1.00" fill="#cc0f35" stroke="#9a1438" stroke-width="0.56"/>
<circle cx="438.98" cy="150.68" r="1.0" fill="#cc0f35"/>
<circle cx="439.08" cy="148.57" r="1.00" fill="#cc0f35" stroke="#9a1438" stroke-width="0.56"/>
<circle cx="438.99" cy="146.90" r="1.0" fill="#cc0f35"/>
<circle cx="439.06" cy="144.98" r="1.00" fill="#cc0f35" stroke="#9a1438" stroke-width="0.56"/>
<circle cx="438.80" cy="48.80" r="1.1" fill="#6a1a36"/>
<circle cx="481.42" cy="141.91" r="1.35" fill="#123a62"/>
<circle cx="483.13" cy="145.41" r="1.35" fill="#123a62"/>
<circle cx="478.38" cy="146.62" r="1.35" fill="#123a62"/>
<circle cx="486.21" cy="146.55" r="1.35" fill="#123a62"/>
<circle cx="483.27" cy="148.29" r="1.35" fill="#123a62"/>
<circle cx="476.57" cy="149.85" r="1.35" fill="#123a62"/>
<circle cx="490.12" cy="149.99" r="1.35" fill="#123a62"/>
<circle cx="475.45" cy="151.92" r="1.35" fill="#123a62"/>
<circle cx="477.62" cy="152.11" r="1.35" fill="#123a62"/>
<circle cx="481.54" cy="151.79" r="1.35" fill="#123a62"/>
<circle cx="484.80" cy="152.03" r="1.35" fill="#123a62"/>
<circle cx="486.63" cy="152.24" r="1.35" fill="#123a62"/>
<circle cx="488.67" cy="151.97" r="1.35" fill="#123a62"/>
<circle cx="490.70" cy="151.59" r="1.35" fill="#123a62"/>
<circle cx="477.44" cy="155.49" r="1.35" fill="#123a62"/>
<circle cx="479.66" cy="155.40" r="1.35" fill="#123a62"/>
<circle cx="481.28" cy="155.13" r="1.35" fill="#123a62"/>
<circle cx="483.37" cy="155.40" r="1.35" fill="#123a62"/>
<circle cx="485.15" cy="155.47" r="1.35" fill="#123a62"/>
<circle cx="487.19" cy="155.56" r="1.35" fill="#123a62"/>
<circle cx="492.67" cy="155.07" r="1.35" fill="#123a62"/>
<circle cx="474.73" cy="157.15" r="1.35" fill="#123a62"/>
<circle cx="476.70" cy="157.06" r="1.35" fill="#123a62"/>
<circle cx="478.49" cy="157.19" r="1.35" fill="#123a62"/>
<circle cx="481.96" cy="156.96" r="1.35" fill="#123a62"/>
<circle cx="489.72" cy="157.08" r="1.35" fill="#123a62"/>
<circle cx="479.29" cy="158.43" r="1.35" fill="#123a62"/>
<circle cx="483.04" cy="158.76" r="1.35" fill="#123a62"/>
<circle cx="478.47" cy="160.44" r="1.35" fill="#123a62"/>
<circle cx="478.66" cy="145.57" r="1.35" fill="#123a62"/>
<circle cx="476.74" cy="146.70" r="1.35" fill="#123a62"/>
<circle cx="475.11" cy="147.01" r="1.35" fill="#123a62"/>
<circle cx="476.22" cy="149.57" r="1.35" fill="#123a62"/>
<circle cx="474.67" cy="150.49" r="1.35" fill="#123a62"/>
<circle cx="472.98" cy="150.94" r="1.35" fill="#123a62"/>
<circle cx="469.51" cy="152.95" r="1.35" fill="#123a62"/>
<circle cx="479.31" cy="161.96" r="1.35" fill="#123a62"/>
<circle cx="480.81" cy="162.45" r="1.35" fill="#123a62"/>
<circle cx="485.01" cy="159.92" r="1.35" fill="#123a62"/>
<circle cx="486.69" cy="159.13" r="1.35" fill="#123a62"/>
<circle cx="488.27" cy="158.22" r="1.35" fill="#123a62"/>
<circle cx="494.11" cy="155.56" r="1.35" fill="#123a62"/>
<circle cx="490.54" cy="150.00" r="1.35" fill="#123a62"/>
<circle cx="487.73" cy="147.92" r="1.35" fill="#123a62"/>
<circle cx="486.00" cy="146.62" r="1.35" fill="#123a62"/>
<circle cx="482.91" cy="144.45" r="1.35" fill="#123a62"/>
<circle cx="481.42" cy="141.91" r="0.95" fill="#2d71b2"/>
<circle cx="483.13" cy="145.41" r="0.95" fill="#2d71b2"/>
<circle cx="478.38" cy="146.62" r="0.95" fill="#2d71b2"/>
<circle cx="479.96" cy="146.60" r="0.95" fill="#2d71b2" stroke="#123a62" stroke-width="0.64"/>
<circle cx="486.21" cy="146.55" r="0.95" fill="#2d71b2"/>
<circle cx="477.10" cy="148.76" r="0.95" fill="#2d71b2" stroke="#123a62" stroke-width="0.64"/>
<circle cx="479.69" cy="148.76" r="0.95" fill="#2d71b2" stroke="#123a62" stroke-width="0.64"/>
<circle cx="483.27" cy="148.29" r="0.95" fill="#2d71b2"/>
<circle cx="485.38" cy="148.78" r="0.95" fill="#2d71b2" stroke="#123a62" stroke-width="0.64"/>
<circle cx="486.72" cy="148.25" r="0.95" fill="#2d71b2" stroke="#123a62" stroke-width="0.64"/>
<circle cx="476.57" cy="149.85" r="0.95" fill="#2d71b2"/>
<circle cx="478.27" cy="150.42" r="0.95" fill="#2d71b2" stroke="#123a62" stroke-width="0.64"/>
<circle cx="480.29" cy="150.34" r="0.95" fill="#2d71b2" stroke="#123a62" stroke-width="0.64"/>
<circle cx="484.27" cy="150.44" r="0.95" fill="#2d71b2" stroke="#123a62" stroke-width="0.64"/>
<circle cx="487.95" cy="149.86" r="0.95" fill="#2d71b2" stroke="#123a62" stroke-width="0.64"/>
<circle cx="490.12" cy="149.99" r="0.95" fill="#2d71b2"/>
<circle cx="475.45" cy="151.92" r="0.95" fill="#2d71b2"/>
<circle cx="477.62" cy="152.11" r="0.95" fill="#2d71b2"/>
<circle cx="479.66" cy="151.61" r="0.95" fill="#2d71b2" stroke="#123a62" stroke-width="0.64"/>
<circle cx="481.54" cy="151.79" r="0.95" fill="#2d71b2"/>
<circle cx="483.02" cy="151.77" r="0.95" fill="#2d71b2" stroke="#123a62" stroke-width="0.64"/>
<circle cx="484.80" cy="152.03" r="0.95" fill="#2d71b2"/>
<circle cx="486.63" cy="152.24" r="0.95" fill="#2d71b2"/>
<circle cx="488.67" cy="151.97" r="0.95" fill="#2d71b2"/>
<circle cx="490.70" cy="151.59" r="0.95" fill="#2d71b2"/>
<circle cx="492.65" cy="152.14" r="0.95" fill="#2d71b2" stroke="#123a62" stroke-width="0.64"/>
<circle cx="474.80" cy="153.32" r="0.95" fill="#2d71b2" stroke="#123a62" stroke-width="0.64"/>
<circle cx="476.74" cy="153.46" r="0.95" fill="#2d71b2" stroke="#123a62" stroke-width="0.64"/>
<circle cx="484.09" cy="153.76" r="0.95" fill="#2d71b2" stroke="#123a62" stroke-width="0.64"/>
<circle cx="485.93" cy="153.35" r="0.95" fill="#2d71b2" stroke="#123a62" stroke-width="0.64"/>
<circle cx="491.70" cy="153.49" r="0.95" fill="#2d71b2" stroke="#123a62" stroke-width="0.64"/>
<circle cx="493.80" cy="153.86" r="0.95" fill="#2d71b2" stroke="#123a62" stroke-width="0.64"/>
<circle cx="473.76" cy="155.48" r="0.95" fill="#2d71b2" stroke="#123a62" stroke-width="0.64"/>
<circle cx="477.44" cy="155.49" r="0.95" fill="#2d71b2"/>
<circle cx="479.66" cy="155.40" r="0.95" fill="#2d71b2"/>
<circle cx="481.28" cy="155.13" r="0.95" fill="#2d71b2"/>
<circle cx="483.37" cy="155.40" r="0.95" fill="#2d71b2"/>
<circle cx="485.15" cy="155.47" r="0.95" fill="#2d71b2"/>
<circle cx="487.19" cy="155.56" r="0.95" fill="#2d71b2"/>
<circle cx="492.67" cy="155.07" r="0.95" fill="#2d71b2"/>
<circle cx="474.73" cy="157.15" r="0.95" fill="#2d71b2"/>
<circle cx="476.70" cy="157.06" r="0.95" fill="#2d71b2"/>
<circle cx="478.49" cy="157.19" r="0.95" fill="#2d71b2"/>
<circle cx="481.96" cy="156.96" r="0.95" fill="#2d71b2"/>
<circle cx="484.23" cy="157.09" r="0.95" fill="#2d71b2" stroke="#123a62" stroke-width="0.64"/>
<circle cx="485.81" cy="156.69" r="0.95" fill="#2d71b2" stroke="#123a62" stroke-width="0.64"/>
<circle cx="487.68" cy="156.79" r="0.95" fill="#2d71b2" stroke="#123a62" stroke-width="0.64"/>
<circle cx="489.72" cy="157.08" r="0.95" fill="#2d71b2"/>
<circle cx="477.73" cy="158.35" r="0.95" fill="#2d71b2" stroke="#123a62" stroke-width="0.64"/>
<circle cx="479.29" cy="158.43" r="0.95" fill="#2d71b2"/>
<circle cx="480.93" cy="158.78" r="0.95" fill="#2d71b2" stroke="#123a62" stroke-width="0.64"/>
<circle cx="483.04" cy="158.76" r="0.95" fill="#2d71b2"/>
<circle cx="487.17" cy="158.80" r="0.95" fill="#2d71b2" stroke="#123a62" stroke-width="0.64"/>
<circle cx="478.47" cy="160.44" r="0.95" fill="#2d71b2"/>
<circle cx="482.10" cy="160.68" r="0.95" fill="#2d71b2" stroke="#123a62" stroke-width="0.64"/>
<circle cx="484.15" cy="160.48" r="0.95" fill="#2d71b2" stroke="#123a62" stroke-width="0.64"/>
<circle cx="479.62" cy="162.01" r="0.95" fill="#2d71b2" stroke="#123a62" stroke-width="0.64"/>
<circle cx="481.10" cy="162.43" r="0.95" fill="#2d71b2" stroke="#123a62" stroke-width="0.64"/>
<circle cx="480.64" cy="143.18" r="0.95" fill="#2d71b2" stroke="#123a62" stroke-width="0.64"/>
<circle cx="479.88" cy="144.89" r="0.95" fill="#2d71b2" stroke="#123a62" stroke-width="0.64"/>
<circle cx="478.66" cy="145.57" r="0.95" fill="#2d71b2"/>
<circle cx="476.74" cy="146.70" r="0.95" fill="#2d71b2"/>
<circle cx="475.11" cy="147.01" r="0.95" fill="#2d71b2"/>
<circle cx="476.22" cy="149.57" r="0.95" fill="#2d71b2"/>
<circle cx="474.67" cy="150.49" r="0.95" fill="#2d71b2"/>
<circle cx="472.98" cy="150.94" r="0.95" fill="#2d71b2"/>
<circle cx="471.04" cy="151.78" r="0.95" fill="#2d71b2" stroke="#123a62" stroke-width="0.64"/>
<circle cx="469.51" cy="152.95" r="0.95" fill="#2d71b2"/>
<circle cx="468.23" cy="154.27" r="0.95" fill="#2d71b2" stroke="#123a62" stroke-width="0.64"/>
<circle cx="473.08" cy="157.59" r="0.95" fill="#2d71b2" stroke="#123a62" stroke-width="0.64"/>
<circle cx="475.23" cy="158.44" r="0.95" fill="#2d71b2" stroke="#123a62" stroke-width="0.64"/>
<circle cx="477.90" cy="160.96" r="0.95" fill="#2d71b2" stroke="#123a62" stroke-width="0.64"/>
<circle cx="479.31" cy="161.96" r="0.95" fill="#2d71b2"/>
<circle cx="480.81" cy="162.45" r="0.95" fill="#2d71b2"/>
<circle cx="484.18" cy="161.49" r="0.95" fill="#2d71b2" stroke="#123a62" stroke-width="0.64"/>
<circle cx="485.01" cy="159.92" r="0.95" fill="#2d71b2"/>
<circle cx="486.69" cy="159.13" r="0.95" fill="#2d71b2"/>
<circle cx="488.27" cy="158.22" r="0.95" fill="#2d71b2"/>
<circle cx="494.11" cy="155.56" r="0.95" fill="#2d71b2"/>
<circle cx="491.97" cy="151.71" r="0.95" fill="#2d71b2" stroke="#123a62" stroke-width="0.64"/>
<circle cx="490.54" cy="150.00" r="0.95" fill="#2d71b2"/>
<circle cx="488.86" cy="148.92" r="0.95" fill="#2d71b2" stroke="#123a62" stroke-width="0.64"/>
<circle cx="487.73" cy="147.92" r="0.95" fill="#2d71b2"/>
<circle cx="486.00" cy="146.62" r="0.95" fill="#2d71b2"/>
<circle cx="484.70" cy="145.69" r="0.95" fill="#2d71b2" stroke="#123a62" stroke-width="0.64"/>
<circle cx="482.91" cy="144.45" r="0.95" fill="#2d71b2"/>
<circle cx="481.60" cy="171.20" r="0.85" fill="#141d2b"/>
<circle cx="87.70" cy="295.73" r="1.20" fill="#9a1438"/>
<circle cx="86.68" cy="296.92" r="1.20" fill="#9a1438"/>
<circle cx="88.96" cy="296.83" r="1.20" fill="#9a1438"/>
<circle cx="88.30" cy="300.62" r="1.20" fill="#9a1438"/>
<circle cx="90.77" cy="300.85" r="1.20" fill="#9a1438"/>
<circle cx="85.68" cy="302.75" r="1.20" fill="#9a1438"/>
<circle cx="87.45" cy="303.20" r="1.20" fill="#9a1438"/>
<circle cx="91.68" cy="302.51" r="1.20" fill="#9a1438"/>
<circle cx="84.74" cy="304.51" r="1.20" fill="#9a1438"/>
<circle cx="89.07" cy="304.57" r="1.20" fill="#9a1438"/>
<circle cx="90.42" cy="304.72" r="1.20" fill="#9a1438"/>
<circle cx="92.53" cy="304.45" r="1.20" fill="#9a1438"/>
<circle cx="85.82" cy="306.16" r="1.20" fill="#9a1438"/>
<circle cx="89.40" cy="306.38" r="1.20" fill="#9a1438"/>
<circle cx="92.27" cy="306.72" r="1.20" fill="#9a1438"/>
<circle cx="82.30" cy="308.62" r="1.20" fill="#9a1438"/>
<circle cx="84.94" cy="308.04" r="1.20" fill="#9a1438"/>
<circle cx="88.77" cy="308.07" r="1.20" fill="#9a1438"/>
<circle cx="90.76" cy="308.71" r="1.20" fill="#9a1438"/>
<circle cx="83.22" cy="309.87" r="1.20" fill="#9a1438"/>
<circle cx="88.06" cy="310.49" r="1.20" fill="#9a1438"/>
<circle cx="89.39" cy="309.73" r="1.20" fill="#9a1438"/>
<circle cx="92.03" cy="309.93" r="1.20" fill="#9a1438"/>
<circle cx="93.76" cy="309.86" r="1.20" fill="#9a1438"/>
<circle cx="80.06" cy="312.05" r="1.20" fill="#9a1438"/>
<circle cx="82.20" cy="312.38" r="1.20" fill="#9a1438"/>
<circle cx="89.05" cy="312.43" r="1.20" fill="#9a1438"/>
<circle cx="93.27" cy="312.18" r="1.20" fill="#9a1438"/>
<circle cx="95.12" cy="311.98" r="1.20" fill="#9a1438"/>
<circle cx="81.80" cy="313.47" r="1.20" fill="#9a1438"/>
<circle cx="83.81" cy="314.06" r="1.20" fill="#9a1438"/>
<circle cx="85.92" cy="313.72" r="1.20" fill="#9a1438"/>
<circle cx="92.11" cy="314.18" r="1.20" fill="#9a1438"/>
<circle cx="93.84" cy="313.92" r="1.20" fill="#9a1438"/>
<circle cx="96.18" cy="314.29" r="1.20" fill="#9a1438"/>
<circle cx="80.20" cy="315.91" r="1.20" fill="#9a1438"/>
<circle cx="82.70" cy="315.33" r="1.20" fill="#9a1438"/>
<circle cx="84.59" cy="315.68" r="1.20" fill="#9a1438"/>
<circle cx="86.60" cy="315.80" r="1.20" fill="#9a1438"/>
<circle cx="88.26" cy="315.52" r="1.20" fill="#9a1438"/>
<circle cx="90.50" cy="316.07" r="1.20" fill="#9a1438"/>
<circle cx="93.25" cy="315.54" r="1.20" fill="#9a1438"/>
<circle cx="94.94" cy="315.98" r="1.20" fill="#9a1438"/>
<circle cx="81.65" cy="317.86" r="1.20" fill="#9a1438"/>
<circle cx="85.25" cy="317.51" r="1.20" fill="#9a1438"/>
<circle cx="87.57" cy="317.66" r="1.20" fill="#9a1438"/>
<circle cx="90.06" cy="317.98" r="1.20" fill="#9a1438"/>
<circle cx="94.01" cy="317.38" r="1.20" fill="#9a1438"/>
<circle cx="78.15" cy="319.52" r="1.20" fill="#9a1438"/>
<circle cx="82.11" cy="318.96" r="1.20" fill="#9a1438"/>
<circle cx="84.21" cy="319.20" r="1.20" fill="#9a1438"/>
<circle cx="86.62" cy="319.50" r="1.20" fill="#9a1438"/>
<circle cx="92.57" cy="319.36" r="1.20" fill="#9a1438"/>
<circle cx="97.16" cy="319.74" r="1.20" fill="#9a1438"/>
<circle cx="77.29" cy="320.98" r="1.20" fill="#9a1438"/>
<circle cx="79.38" cy="321.45" r="1.20" fill="#9a1438"/>
<circle cx="87.91" cy="321.09" r="1.20" fill="#9a1438"/>
<circle cx="91.47" cy="321.20" r="1.20" fill="#9a1438"/>
<circle cx="93.94" cy="320.83" r="1.20" fill="#9a1438"/>
<circle cx="96.32" cy="320.96" r="1.20" fill="#9a1438"/>
<circle cx="97.83" cy="320.93" r="1.20" fill="#9a1438"/>
<circle cx="100.56" cy="321.42" r="1.20" fill="#9a1438"/>
<circle cx="76.50" cy="322.73" r="1.20" fill="#9a1438"/>
<circle cx="78.01" cy="323.31" r="1.20" fill="#9a1438"/>
<circle cx="80.61" cy="323.15" r="1.20" fill="#9a1438"/>
<circle cx="82.71" cy="323.46" r="1.20" fill="#9a1438"/>
<circle cx="88.77" cy="322.83" r="1.20" fill="#9a1438"/>
<circle cx="90.89" cy="322.67" r="1.20" fill="#9a1438"/>
<circle cx="92.81" cy="323.37" r="1.20" fill="#9a1438"/>
<circle cx="95.17" cy="322.71" r="1.20" fill="#9a1438"/>
<circle cx="97.51" cy="323.48" r="1.20" fill="#9a1438"/>
<circle cx="98.86" cy="323.04" r="1.20" fill="#9a1438"/>
<circle cx="79.09" cy="324.67" r="1.20" fill="#9a1438"/>
<circle cx="85.72" cy="324.79" r="1.20" fill="#9a1438"/>
<circle cx="89.53" cy="324.68" r="1.20" fill="#9a1438"/>
<circle cx="91.74" cy="324.87" r="1.20" fill="#9a1438"/>
<circle cx="93.68" cy="325.07" r="1.20" fill="#9a1438"/>
<circle cx="96.37" cy="325.05" r="1.20" fill="#9a1438"/>
<circle cx="98.37" cy="325.23" r="1.20" fill="#9a1438"/>
<circle cx="78.03" cy="327.18" r="1.20" fill="#9a1438"/>
<circle cx="84.27" cy="327.00" r="1.20" fill="#9a1438"/>
<circle cx="86.90" cy="326.73" r="1.20" fill="#9a1438"/>
<circle cx="90.96" cy="327.17" r="1.20" fill="#9a1438"/>
<circle cx="92.91" cy="327.03" r="1.20" fill="#9a1438"/>
<circle cx="97.15" cy="326.81" r="1.20" fill="#9a1438"/>
<circle cx="81.07" cy="328.38" r="1.20" fill="#9a1438"/>
<circle cx="87.26" cy="329.06" r="1.20" fill="#9a1438"/>
<circle cx="89.59" cy="328.62" r="1.20" fill="#9a1438"/>
<circle cx="91.94" cy="328.21" r="1.20" fill="#9a1438"/>
<circle cx="96.01" cy="328.87" r="1.20" fill="#9a1438"/>
<circle cx="86.78" cy="330.82" r="1.20" fill="#9a1438"/>
<circle cx="88.79" cy="330.50" r="1.20" fill="#9a1438"/>
<circle cx="90.58" cy="330.87" r="1.20" fill="#9a1438"/>
<circle cx="93.18" cy="330.42" r="1.20" fill="#9a1438"/>
<circle cx="83.69" cy="332.59" r="1.20" fill="#9a1438"/>
<circle cx="85.16" cy="332.21" r="1.20" fill="#9a1438"/>
<circle cx="87.52" cy="332.47" r="1.20" fill="#9a1438"/>
<circle cx="90.15" cy="332.50" r="1.20" fill="#9a1438"/>
<circle cx="91.91" cy="332.38" r="1.20" fill="#9a1438"/>
<circle cx="82.58" cy="334.44" r="1.20" fill="#9a1438"/>
<circle cx="84.60" cy="334.41" r="1.20" fill="#9a1438"/>
<circle cx="86.20" cy="333.93" r="1.20" fill="#9a1438"/>
<circle cx="88.48" cy="334.57" r="1.20" fill="#9a1438"/>
<circle cx="91.22" cy="334.26" r="1.20" fill="#9a1438"/>
<circle cx="93.18" cy="333.82" r="1.20" fill="#9a1438"/>
<circle cx="85.25" cy="336.05" r="1.20" fill="#9a1438"/>
<circle cx="88.05" cy="335.98" r="1.20" fill="#9a1438"/>
<circle cx="89.63" cy="335.86" r="1.20" fill="#9a1438"/>
<circle cx="91.66" cy="336.24" r="1.20" fill="#9a1438"/>
<circle cx="86.50" cy="338.26" r="1.20" fill="#9a1438"/>
<circle cx="85.53" cy="340.18" r="1.20" fill="#9a1438"/>
<circle cx="88.04" cy="339.95" r="1.20" fill="#9a1438"/>
<circle cx="86.69" cy="341.25" r="1.20" fill="#9a1438"/>
<circle cx="88.43" cy="341.20" r="1.20" fill="#9a1438"/>
<circle cx="87.60" cy="343.60" r="1.20" fill="#9a1438"/>
<circle cx="87.19" cy="294.23" r="1.20" fill="#9a1438"/>
<circle cx="86.79" cy="296.67" r="1.20" fill="#9a1438"/>
<circle cx="85.37" cy="298.64" r="1.20" fill="#9a1438"/>
<circle cx="84.97" cy="300.10" r="1.20" fill="#9a1438"/>
<circle cx="84.52" cy="302.44" r="1.20" fill="#9a1438"/>
<circle cx="83.29" cy="304.65" r="1.20" fill="#9a1438"/>
<circle cx="81.28" cy="307.82" r="1.20" fill="#9a1438"/>
<circle cx="80.40" cy="312.05" r="1.20" fill="#9a1438"/>
<circle cx="79.55" cy="313.75" r="1.20" fill="#9a1438"/>
<circle cx="77.82" cy="318.03" r="1.20" fill="#9a1438"/>
<circle cx="76.43" cy="319.90" r="1.20" fill="#9a1438"/>
<circle cx="76.03" cy="321.29" r="1.20" fill="#9a1438"/>
<circle cx="75.82" cy="323.17" r="1.20" fill="#9a1438"/>
<circle cx="77.91" cy="326.83" r="1.20" fill="#9a1438"/>
<circle cx="78.79" cy="328.12" r="1.20" fill="#9a1438"/>
<circle cx="80.17" cy="330.32" r="1.20" fill="#9a1438"/>
<circle cx="80.95" cy="331.90" r="1.20" fill="#9a1438"/>
<circle cx="81.85" cy="334.12" r="1.20" fill="#9a1438"/>
<circle cx="86.25" cy="341.32" r="1.20" fill="#9a1438"/>
<circle cx="87.55" cy="343.56" r="1.20" fill="#9a1438"/>
<circle cx="88.85" cy="343.13" r="1.20" fill="#9a1438"/>
<circle cx="90.03" cy="341.77" r="1.20" fill="#9a1438"/>
<circle cx="93.21" cy="336.11" r="1.20" fill="#9a1438"/>
<circle cx="94.37" cy="333.75" r="1.20" fill="#9a1438"/>
<circle cx="94.65" cy="331.87" r="1.20" fill="#9a1438"/>
<circle cx="97.19" cy="328.24" r="1.20" fill="#9a1438"/>
<circle cx="98.05" cy="326.57" r="1.20" fill="#9a1438"/>
<circle cx="99.73" cy="324.99" r="1.20" fill="#9a1438"/>
<circle cx="100.70" cy="321.59" r="1.20" fill="#9a1438"/>
<circle cx="100.06" cy="319.62" r="1.20" fill="#9a1438"/>
<circle cx="98.98" cy="318.12" r="1.20" fill="#9a1438"/>
<circle cx="96.19" cy="312.23" r="1.20" fill="#9a1438"/>
<circle cx="95.43" cy="309.71" r="1.20" fill="#9a1438"/>
<circle cx="93.52" cy="305.89" r="1.20" fill="#9a1438"/>
<circle cx="93.32" cy="303.86" r="1.20" fill="#9a1438"/>
<circle cx="91.28" cy="300.42" r="1.20" fill="#9a1438"/>
<circle cx="90.34" cy="298.04" r="1.20" fill="#9a1438"/>
<circle cx="90.27" cy="296.39" r="1.20" fill="#9a1438"/>
<circle cx="88.98" cy="294.10" r="1.20" fill="#9a1438"/>
<circle cx="87.70" cy="295.73" r="0.9" fill="#d81a46"/>
<circle cx="86.68" cy="296.92" r="0.9" fill="#d81a46"/>
<circle cx="88.96" cy="296.83" r="0.9" fill="#d81a46"/>
<circle cx="85.83" cy="299.22" r="0.90" fill="#d81a46" stroke="#9a1438" stroke-width="0.48"/>
<circle cx="86.70" cy="300.59" r="0.90" fill="#d81a46" stroke="#9a1438" stroke-width="0.48"/>
<circle cx="88.30" cy="300.62" r="0.9" fill="#d81a46"/>
<circle cx="90.77" cy="300.85" r="0.9" fill="#d81a46"/>
<circle cx="85.68" cy="302.75" r="0.9" fill="#d81a46"/>
<circle cx="87.45" cy="303.20" r="0.9" fill="#d81a46"/>
<circle cx="91.68" cy="302.51" r="0.9" fill="#d81a46"/>
<circle cx="84.74" cy="304.51" r="0.9" fill="#d81a46"/>
<circle cx="87.01" cy="304.91" r="0.90" fill="#d81a46" stroke="#9a1438" stroke-width="0.48"/>
<circle cx="89.07" cy="304.57" r="0.9" fill="#d81a46"/>
<circle cx="90.42" cy="304.72" r="0.9" fill="#d81a46"/>
<circle cx="92.53" cy="304.45" r="0.9" fill="#d81a46"/>
<circle cx="83.11" cy="306.22" r="0.90" fill="#d81a46" stroke="#9a1438" stroke-width="0.48"/>
<circle cx="85.82" cy="306.16" r="0.9" fill="#d81a46"/>
<circle cx="87.37" cy="306.66" r="0.90" fill="#d81a46" stroke="#9a1438" stroke-width="0.48"/>
<circle cx="89.40" cy="306.38" r="0.9" fill="#d81a46"/>
<circle cx="92.27" cy="306.72" r="0.9" fill="#d81a46"/>
<circle cx="82.30" cy="308.62" r="0.9" fill="#d81a46"/>
<circle cx="84.94" cy="308.04" r="0.9" fill="#d81a46"/>
<circle cx="86.45" cy="308.12" r="0.90" fill="#d81a46" stroke="#9a1438" stroke-width="0.48"/>
<circle cx="88.77" cy="308.07" r="0.9" fill="#d81a46"/>
<circle cx="90.76" cy="308.71" r="0.9" fill="#d81a46"/>
<circle cx="93.23" cy="308.01" r="0.90" fill="#d81a46" stroke="#9a1438" stroke-width="0.48"/>
<circle cx="83.22" cy="309.87" r="0.9" fill="#d81a46"/>
<circle cx="88.06" cy="310.49" r="0.9" fill="#d81a46"/>
<circle cx="89.39" cy="309.73" r="0.9" fill="#d81a46"/>
<circle cx="92.03" cy="309.93" r="0.9" fill="#d81a46"/>
<circle cx="93.76" cy="309.86" r="0.9" fill="#d81a46"/>
<circle cx="80.06" cy="312.05" r="0.9" fill="#d81a46"/>
<circle cx="82.20" cy="312.38" r="0.9" fill="#d81a46"/>
<circle cx="84.29" cy="311.95" r="0.90" fill="#d81a46" stroke="#9a1438" stroke-width="0.48"/>
<circle cx="86.48" cy="312.06" r="0.90" fill="#d81a46" stroke="#9a1438" stroke-width="0.48"/>
<circle cx="89.05" cy="312.43" r="0.9" fill="#d81a46"/>
<circle cx="90.88" cy="311.68" r="0.90" fill="#d81a46" stroke="#9a1438" stroke-width="0.48"/>
<circle cx="93.27" cy="312.18" r="0.9" fill="#d81a46"/>
<circle cx="95.12" cy="311.98" r="0.9" fill="#d81a46"/>
<circle cx="81.80" cy="313.47" r="0.9" fill="#d81a46"/>
<circle cx="83.81" cy="314.06" r="0.9" fill="#d81a46"/>
<circle cx="85.92" cy="313.72" r="0.9" fill="#d81a46"/>
<circle cx="92.11" cy="314.18" r="0.9" fill="#d81a46"/>
<circle cx="93.84" cy="313.92" r="0.9" fill="#d81a46"/>
<circle cx="96.18" cy="314.29" r="0.9" fill="#d81a46"/>
<circle cx="80.20" cy="315.91" r="0.9" fill="#d81a46"/>
<circle cx="82.70" cy="315.33" r="0.9" fill="#d81a46"/>
<circle cx="84.59" cy="315.68" r="0.9" fill="#d81a46"/>
<circle cx="86.60" cy="315.80" r="0.9" fill="#d81a46"/>
<circle cx="88.26" cy="315.52" r="0.9" fill="#d81a46"/>
<circle cx="90.50" cy="316.07" r="0.9" fill="#d81a46"/>
<circle cx="93.25" cy="315.54" r="0.9" fill="#d81a46"/>
<circle cx="94.94" cy="315.98" r="0.9" fill="#d81a46"/>
<circle cx="79.32" cy="317.38" r="0.90" fill="#d81a46" stroke="#9a1438" stroke-width="0.48"/>
<circle cx="81.65" cy="317.86" r="0.9" fill="#d81a46"/>
<circle cx="85.25" cy="317.51" r="0.9" fill="#d81a46"/>
<circle cx="87.57" cy="317.66" r="0.9" fill="#d81a46"/>
<circle cx="90.06" cy="317.98" r="0.9" fill="#d81a46"/>
<circle cx="91.43" cy="317.89" r="0.90" fill="#d81a46" stroke="#9a1438" stroke-width="0.48"/>
<circle cx="94.01" cy="317.38" r="0.9" fill="#d81a46"/>
<circle cx="95.72" cy="317.51" r="0.90" fill="#d81a46" stroke="#9a1438" stroke-width="0.48"/>
<circle cx="97.91" cy="317.23" r="0.90" fill="#d81a46" stroke="#9a1438" stroke-width="0.48"/>
<circle cx="78.15" cy="319.52" r="0.9" fill="#d81a46"/>
<circle cx="80.71" cy="319.57" r="0.90" fill="#d81a46" stroke="#9a1438" stroke-width="0.48"/>
<circle cx="82.11" cy="318.96" r="0.9" fill="#d81a46"/>
<circle cx="84.21" cy="319.20" r="0.9" fill="#d81a46"/>
<circle cx="86.62" cy="319.50" r="0.9" fill="#d81a46"/>
<circle cx="88.96" cy="319.77" r="0.90" fill="#d81a46" stroke="#9a1438" stroke-width="0.48"/>
<circle cx="92.57" cy="319.36" r="0.9" fill="#d81a46"/>
<circle cx="97.16" cy="319.74" r="0.9" fill="#d81a46"/>
<circle cx="77.29" cy="320.98" r="0.9" fill="#d81a46"/>
<circle cx="79.38" cy="321.45" r="0.9" fill="#d81a46"/>
<circle cx="87.91" cy="321.09" r="0.9" fill="#d81a46"/>
<circle cx="91.47" cy="321.20" r="0.9" fill="#d81a46"/>
<circle cx="93.94" cy="320.83" r="0.9" fill="#d81a46"/>
<circle cx="96.32" cy="320.96" r="0.9" fill="#d81a46"/>
<circle cx="97.83" cy="320.93" r="0.9" fill="#d81a46"/>
<circle cx="100.56" cy="321.42" r="0.9" fill="#d81a46"/>
<circle cx="76.50" cy="322.73" r="0.9" fill="#d81a46"/>
<circle cx="78.01" cy="323.31" r="0.9" fill="#d81a46"/>
<circle cx="80.61" cy="323.15" r="0.9" fill="#d81a46"/>
<circle cx="82.71" cy="323.46" r="0.9" fill="#d81a46"/>
<circle cx="88.77" cy="322.83" r="0.9" fill="#d81a46"/>
<circle cx="90.89" cy="322.67" r="0.9" fill="#d81a46"/>
<circle cx="92.81" cy="323.37" r="0.9" fill="#d81a46"/>
<circle cx="95.17" cy="322.71" r="0.9" fill="#d81a46"/>
<circle cx="97.51" cy="323.48" r="0.9" fill="#d81a46"/>
<circle cx="98.86" cy="323.04" r="0.9" fill="#d81a46"/>
<circle cx="79.09" cy="324.67" r="0.9" fill="#d81a46"/>
<circle cx="83.70" cy="324.52" r="0.90" fill="#d81a46" stroke="#9a1438" stroke-width="0.48"/>
<circle cx="85.72" cy="324.79" r="0.9" fill="#d81a46"/>
<circle cx="87.29" cy="325.16" r="0.90" fill="#d81a46" stroke="#9a1438" stroke-width="0.48"/>
<circle cx="89.53" cy="324.68" r="0.9" fill="#d81a46"/>
<circle cx="91.74" cy="324.87" r="0.9" fill="#d81a46"/>
<circle cx="93.68" cy="325.07" r="0.9" fill="#d81a46"/>
<circle cx="96.37" cy="325.05" r="0.9" fill="#d81a46"/>
<circle cx="98.37" cy="325.23" r="0.9" fill="#d81a46"/>
<circle cx="78.03" cy="327.18" r="0.9" fill="#d81a46"/>
<circle cx="84.27" cy="327.00" r="0.9" fill="#d81a46"/>
<circle cx="86.90" cy="326.73" r="0.9" fill="#d81a46"/>
<circle cx="88.61" cy="326.97" r="0.90" fill="#d81a46" stroke="#9a1438" stroke-width="0.48"/>
<circle cx="90.96" cy="327.17" r="0.9" fill="#d81a46"/>
<circle cx="92.91" cy="327.03" r="0.9" fill="#d81a46"/>
<circle cx="94.72" cy="326.41" r="0.90" fill="#d81a46" stroke="#9a1438" stroke-width="0.48"/>
<circle cx="97.15" cy="326.81" r="0.9" fill="#d81a46"/>
<circle cx="81.07" cy="328.38" r="0.9" fill="#d81a46"/>
<circle cx="87.26" cy="329.06" r="0.9" fill="#d81a46"/>
<circle cx="89.59" cy="328.62" r="0.9" fill="#d81a46"/>
<circle cx="91.94" cy="328.21" r="0.9" fill="#d81a46"/>
<circle cx="96.01" cy="328.87" r="0.9" fill="#d81a46"/>
<circle cx="82.10" cy="330.51" r="0.90" fill="#d81a46" stroke="#9a1438" stroke-width="0.48"/>
<circle cx="86.78" cy="330.82" r="0.9" fill="#d81a46"/>
<circle cx="88.79" cy="330.50" r="0.9" fill="#d81a46"/>
<circle cx="90.58" cy="330.87" r="0.9" fill="#d81a46"/>
<circle cx="93.18" cy="330.42" r="0.9" fill="#d81a46"/>
<circle cx="83.69" cy="332.59" r="0.9" fill="#d81a46"/>
<circle cx="85.16" cy="332.21" r="0.9" fill="#d81a46"/>
<circle cx="87.52" cy="332.47" r="0.9" fill="#d81a46"/>
<circle cx="90.15" cy="332.50" r="0.9" fill="#d81a46"/>
<circle cx="91.91" cy="332.38" r="0.9" fill="#d81a46"/>
<circle cx="82.58" cy="334.44" r="0.9" fill="#d81a46"/>
<circle cx="84.60" cy="334.41" r="0.9" fill="#d81a46"/>
<circle cx="86.20" cy="333.93" r="0.9" fill="#d81a46"/>
<circle cx="88.48" cy="334.57" r="0.9" fill="#d81a46"/>
<circle cx="91.22" cy="334.26" r="0.9" fill="#d81a46"/>
<circle cx="93.18" cy="333.82" r="0.9" fill="#d81a46"/>
<circle cx="83.04" cy="336.44" r="0.90" fill="#d81a46" stroke="#9a1438" stroke-width="0.48"/>
<circle cx="85.25" cy="336.05" r="0.9" fill="#d81a46"/>
<circle cx="88.05" cy="335.98" r="0.9" fill="#d81a46"/>
<circle cx="89.63" cy="335.86" r="0.9" fill="#d81a46"/>
<circle cx="91.66" cy="336.24" r="0.9" fill="#d81a46"/>
<circle cx="84.27" cy="337.49" r="0.90" fill="#d81a46" stroke="#9a1438" stroke-width="0.48"/>
<circle cx="86.50" cy="338.26" r="0.9" fill="#d81a46"/>
<circle cx="89.14" cy="338.30" r="0.90" fill="#d81a46" stroke="#9a1438" stroke-width="0.48"/>
<circle cx="85.53" cy="340.18" r="0.9" fill="#d81a46"/>
<circle cx="88.04" cy="339.95" r="0.9" fill="#d81a46"/>
<circle cx="86.69" cy="341.25" r="0.9" fill="#d81a46"/>
<circle cx="88.43" cy="341.20" r="0.9" fill="#d81a46"/>
<circle cx="87.60" cy="343.60" r="0.9" fill="#d81a46"/>
<circle cx="87.19" cy="294.23" r="0.9" fill="#d81a46"/>
<circle cx="86.79" cy="296.67" r="0.9" fill="#d81a46"/>
<circle cx="85.37" cy="298.64" r="0.9" fill="#d81a46"/>
<circle cx="84.97" cy="300.10" r="0.9" fill="#d81a46"/>
<circle cx="84.52" cy="302.44" r="0.9" fill="#d81a46"/>
<circle cx="83.29" cy="304.65" r="0.9" fill="#d81a46"/>
<circle cx="81.28" cy="307.82" r="0.9" fill="#d81a46"/>
<circle cx="80.55" cy="310.03" r="0.90" fill="#d81a46" stroke="#9a1438" stroke-width="0.48"/>
<circle cx="80.40" cy="312.05" r="0.9" fill="#d81a46"/>
<circle cx="79.55" cy="313.75" r="0.9" fill="#d81a46"/>
<circle cx="79.08" cy="315.57" r="0.90" fill="#d81a46" stroke="#9a1438" stroke-width="0.48"/>
<circle cx="77.82" cy="318.03" r="0.9" fill="#d81a46"/>
<circle cx="76.43" cy="319.90" r="0.9" fill="#d81a46"/>
<circle cx="76.03" cy="321.29" r="0.9" fill="#d81a46"/>
<circle cx="75.82" cy="323.17" r="0.9" fill="#d81a46"/>
<circle cx="77.02" cy="324.57" r="0.90" fill="#d81a46" stroke="#9a1438" stroke-width="0.48"/>
<circle cx="77.91" cy="326.83" r="0.9" fill="#d81a46"/>
<circle cx="78.79" cy="328.12" r="0.9" fill="#d81a46"/>
<circle cx="80.17" cy="330.32" r="0.9" fill="#d81a46"/>
<circle cx="80.95" cy="331.90" r="0.9" fill="#d81a46"/>
<circle cx="81.85" cy="334.12" r="0.9" fill="#d81a46"/>
<circle cx="86.25" cy="341.32" r="0.9" fill="#d81a46"/>
<circle cx="87.55" cy="343.56" r="0.9" fill="#d81a46"/>
<circle cx="88.85" cy="343.13" r="0.9" fill="#d81a46"/>
<circle cx="90.03" cy="341.77" r="0.9" fill="#d81a46"/>
<circle cx="91.57" cy="339.88" r="0.90" fill="#d81a46" stroke="#9a1438" stroke-width="0.48"/>
<circle cx="92.57" cy="337.74" r="0.90" fill="#d81a46" stroke="#9a1438" stroke-width="0.48"/>
<circle cx="93.21" cy="336.11" r="0.9" fill="#d81a46"/>
<circle cx="94.37" cy="333.75" r="0.9" fill="#d81a46"/>
<circle cx="94.65" cy="331.87" r="0.9" fill="#d81a46"/>
<circle cx="97.19" cy="328.24" r="0.9" fill="#d81a46"/>
<circle cx="98.05" cy="326.57" r="0.9" fill="#d81a46"/>
<circle cx="99.73" cy="324.99" r="0.9" fill="#d81a46"/>
<circle cx="100.70" cy="321.59" r="0.9" fill="#d81a46"/>
<circle cx="100.06" cy="319.62" r="0.9" fill="#d81a46"/>
<circle cx="98.98" cy="318.12" r="0.9" fill="#d81a46"/>
<circle cx="96.19" cy="312.23" r="0.9" fill="#d81a46"/>
<circle cx="95.43" cy="309.71" r="0.9" fill="#d81a46"/>
<circle cx="93.52" cy="305.89" r="0.9" fill="#d81a46"/>
<circle cx="93.32" cy="303.86" r="0.9" fill="#d81a46"/>
<circle cx="92.11" cy="302.60" r="0.90" fill="#d81a46" stroke="#9a1438" stroke-width="0.48"/>
<circle cx="91.28" cy="300.42" r="0.9" fill="#d81a46"/>
<circle cx="90.34" cy="298.04" r="0.9" fill="#d81a46"/>
<circle cx="90.27" cy="296.39" r="0.9" fill="#d81a46"/>
<circle cx="88.98" cy="294.10" r="0.9" fill="#d81a46"/>
<circle cx="88.00" cy="254.60" r="0.85" fill="#5e1934"/>
<circle cx="88.00" cy="268.80" r="0.85" fill="#5e1934"/>
<circle cx="88.00" cy="279.10" r="0.85" fill="#5e1934"/>
<circle cx="88.50" cy="283.40" r="0.85" fill="#5e1934"/>
<circle cx="87.50" cy="285.20" r="0.85" fill="#5e1934"/>
<circle cx="88.00" cy="288.80" r="0.85" fill="#5e1934"/>
<circle cx="88.00" cy="291.90" r="0.85" fill="#5e1934"/>
<circle cx="88.00" cy="348.60" r="0.85" fill="#5e1934"/>
<circle cx="88.00" cy="356.40" r="0.85" fill="#5e1934"/>
<line x1="74.50" y1="323.00" x2="101.50" y2="323.00" stroke="#4a1020" stroke-width="0.9"/>
<line x1="88.00" y1="314.50" x2="88.00" y2="331.50" stroke="#6a1830" stroke-width="0.6"/>
<polygon points="127.00,292.00 127.00,297.50 127.00,300.00 127.00,304.70 121.00,306.20 118.50,309.60 116.30,313.40 116.30,317.80 123.50,320.70 123.50,324.10 123.50,329.00 125.50,332.50 134.50,332.50 137.00,329.00 139.50,324.10 137.00,320.70 145.00,317.80 145.00,313.40 142.50,309.60 136.50,306.20 139.50,304.70 139.50,300.00 133.50,297.50 133.50,292.00" fill="#edf3f9" stroke="#edf3f9" stroke-width="1" stroke-linejoin="round"/>
<circle cx="127.70" cy="293.00" r="1.1" fill="#8fb2d6"/>
<circle cx="130.40" cy="293.00" r="1.1" fill="#8fb2d6"/>
<circle cx="133.10" cy="293.00" r="1.1" fill="#8fb2d6"/>
<circle cx="127.70" cy="295.40" r="1.1" fill="#8fb2d6"/>
<circle cx="130.40" cy="295.40" r="1.1" fill="#8fb2d6"/>
<circle cx="133.10" cy="295.40" r="1.1" fill="#8fb2d6"/>
<circle cx="127.70" cy="297.80" r="1.1" fill="#8fb2d6"/>
<circle cx="133.10" cy="297.80" r="1.1" fill="#8fb2d6"/>
<circle cx="127.70" cy="300.20" r="1.1" fill="#8fb2d6"/>
<circle cx="133.10" cy="300.20" r="1.1" fill="#8fb2d6"/>
<circle cx="138.50" cy="300.20" r="1.1" fill="#8fb2d6"/>
<circle cx="127.70" cy="302.60" r="1.1" fill="#8fb2d6"/>
<circle cx="130.40" cy="302.60" r="1.1" fill="#8fb2d6"/>
<circle cx="133.10" cy="302.60" r="1.1" fill="#8fb2d6"/>
<circle cx="138.50" cy="302.60" r="1.1" fill="#8fb2d6"/>
<circle cx="130.40" cy="305.00" r="1.1" fill="#8fb2d6"/>
<circle cx="133.10" cy="305.00" r="1.1" fill="#8fb2d6"/>
<circle cx="138.50" cy="305.00" r="1.1" fill="#8fb2d6"/>
<circle cx="122.30" cy="307.40" r="1.1" fill="#8fb2d6"/>
<circle cx="125.00" cy="307.40" r="1.1" fill="#8fb2d6"/>
<circle cx="130.40" cy="307.40" r="1.1" fill="#8fb2d6"/>
<circle cx="133.10" cy="307.40" r="1.1" fill="#8fb2d6"/>
<circle cx="119.60" cy="309.80" r="1.1" fill="#8fb2d6"/>
<circle cx="125.00" cy="309.80" r="1.1" fill="#8fb2d6"/>
<circle cx="127.70" cy="309.80" r="1.1" fill="#8fb2d6"/>
<circle cx="130.40" cy="309.80" r="1.1" fill="#8fb2d6"/>
<circle cx="138.50" cy="309.80" r="1.1" fill="#8fb2d6"/>
<circle cx="141.20" cy="309.80" r="1.1" fill="#8fb2d6"/>
<circle cx="119.60" cy="312.20" r="1.1" fill="#8fb2d6"/>
<circle cx="125.00" cy="312.20" r="1.1" fill="#8fb2d6"/>
<circle cx="127.70" cy="312.20" r="1.1" fill="#8fb2d6"/>
<circle cx="130.40" cy="312.20" r="1.1" fill="#8fb2d6"/>
<circle cx="133.10" cy="312.20" r="1.1" fill="#8fb2d6"/>
<circle cx="135.80" cy="312.20" r="1.1" fill="#8fb2d6"/>
<circle cx="138.50" cy="312.20" r="1.1" fill="#8fb2d6"/>
<circle cx="141.20" cy="312.20" r="1.1" fill="#8fb2d6"/>
<circle cx="143.90" cy="312.20" r="1.1" fill="#8fb2d6"/>
<circle cx="119.60" cy="314.60" r="1.1" fill="#8fb2d6"/>
<circle cx="125.00" cy="314.60" r="1.1" fill="#8fb2d6"/>
<circle cx="130.40" cy="314.60" r="1.1" fill="#8fb2d6"/>
<circle cx="133.10" cy="314.60" r="1.1" fill="#8fb2d6"/>
<circle cx="135.80" cy="314.60" r="1.1" fill="#8fb2d6"/>
<circle cx="143.90" cy="314.60" r="1.1" fill="#8fb2d6"/>
<circle cx="116.90" cy="317.00" r="1.1" fill="#8fb2d6"/>
<circle cx="119.60" cy="317.00" r="1.1" fill="#8fb2d6"/>
<circle cx="122.30" cy="317.00" r="1.1" fill="#8fb2d6"/>
<circle cx="125.00" cy="317.00" r="1.1" fill="#8fb2d6"/>
<circle cx="127.70" cy="317.00" r="1.1" fill="#8fb2d6"/>
<circle cx="130.40" cy="317.00" r="1.1" fill="#8fb2d6"/>
<circle cx="133.10" cy="317.00" r="1.1" fill="#8fb2d6"/>
<circle cx="138.50" cy="317.00" r="1.1" fill="#8fb2d6"/>
<circle cx="141.20" cy="317.00" r="1.1" fill="#8fb2d6"/>
<circle cx="143.90" cy="317.00" r="1.1" fill="#8fb2d6"/>
<circle cx="122.30" cy="319.40" r="1.1" fill="#8fb2d6"/>
<circle cx="125.00" cy="319.40" r="1.1" fill="#8fb2d6"/>
<circle cx="127.70" cy="319.40" r="1.1" fill="#8fb2d6"/>
<circle cx="133.10" cy="319.40" r="1.1" fill="#8fb2d6"/>
<circle cx="135.80" cy="319.40" r="1.1" fill="#8fb2d6"/>
<circle cx="138.50" cy="319.40" r="1.1" fill="#8fb2d6"/>
<circle cx="127.70" cy="321.80" r="1.1" fill="#8fb2d6"/>
<circle cx="135.80" cy="321.80" r="1.1" fill="#8fb2d6"/>
<circle cx="127.70" cy="324.20" r="1.1" fill="#8fb2d6"/>
<circle cx="130.40" cy="324.20" r="1.1" fill="#8fb2d6"/>
<circle cx="133.10" cy="324.20" r="1.1" fill="#8fb2d6"/>
<circle cx="135.80" cy="324.20" r="1.1" fill="#8fb2d6"/>
<circle cx="138.50" cy="324.20" r="1.1" fill="#8fb2d6"/>
<circle cx="125.00" cy="326.60" r="1.1" fill="#8fb2d6"/>
<circle cx="127.70" cy="326.60" r="1.1" fill="#8fb2d6"/>
<circle cx="130.40" cy="326.60" r="1.1" fill="#8fb2d6"/>
<circle cx="133.10" cy="326.60" r="1.1" fill="#8fb2d6"/>
<circle cx="125.00" cy="329.00" r="1.1" fill="#8fb2d6"/>
<circle cx="133.10" cy="329.00" r="1.1" fill="#8fb2d6"/>
<circle cx="135.80" cy="329.00" r="1.1" fill="#8fb2d6"/>
<circle cx="127.70" cy="331.40" r="1.1" fill="#8fb2d6"/>
<circle cx="133.10" cy="331.40" r="1.1" fill="#8fb2d6"/>
<circle cx="130.3" cy="268.3" r="1.2" fill="#9dbbd8"/>
<circle cx="130.3" cy="273.3" r="1.2" fill="#9dbbd8"/>
<circle cx="130.3" cy="277.7" r="1.2" fill="#9dbbd8"/>
<circle cx="130.3" cy="279.4" r="1.2" fill="#9dbbd8"/>
<circle cx="130.3" cy="283.3" r="1.2" fill="#9dbbd8"/>
<circle cx="127.6" cy="287.5" r="1.2" fill="#9dbbd8"/>
<circle cx="130.6" cy="288.2" r="1.2" fill="#9dbbd8"/>
<circle cx="130.6" cy="291.1" r="1.2" fill="#9dbbd8"/>
<circle cx="127.70" cy="293.00" r="0.72" fill="#1a3558"/>
<circle cx="130.40" cy="293.00" r="0.72" fill="#1a3558"/>
<circle cx="133.10" cy="293.00" r="0.72" fill="#1a3558"/>
<circle cx="127.70" cy="295.40" r="0.72" fill="#1a3558"/>
<circle cx="130.40" cy="295.40" r="0.72" fill="#1a3558"/>
<circle cx="133.10" cy="295.40" r="0.72" fill="#1a3558"/>
<circle cx="127.70" cy="297.80" r="0.72" fill="#1a3558"/>
<circle cx="133.10" cy="297.80" r="0.72" fill="#1a3558"/>
<circle cx="127.70" cy="300.20" r="0.72" fill="#1a3558"/>
<circle cx="133.10" cy="300.20" r="0.72" fill="#1a3558"/>
<circle cx="138.50" cy="300.20" r="0.72" fill="#1a3558"/>
<circle cx="127.70" cy="302.60" r="0.72" fill="#1a3558"/>
<circle cx="130.40" cy="302.60" r="0.72" fill="#1a3558"/>
<circle cx="133.10" cy="302.60" r="0.72" fill="#1a3558"/>
<circle cx="138.50" cy="302.60" r="0.72" fill="#1a3558"/>
<circle cx="130.40" cy="305.00" r="0.72" fill="#1a3558"/>
<circle cx="133.10" cy="305.00" r="0.72" fill="#1a3558"/>
<circle cx="138.50" cy="305.00" r="0.72" fill="#1a3558"/>
<circle cx="122.30" cy="307.40" r="0.72" fill="#1a3558"/>
<circle cx="125.00" cy="307.40" r="0.72" fill="#1a3558"/>
<circle cx="130.40" cy="307.40" r="0.72" fill="#1a3558"/>
<circle cx="133.10" cy="307.40" r="0.72" fill="#1a3558"/>
<circle cx="119.60" cy="309.80" r="0.72" fill="#1a3558"/>
<circle cx="125.00" cy="309.80" r="0.72" fill="#1a3558"/>
<circle cx="127.70" cy="309.80" r="0.72" fill="#1a3558"/>
<circle cx="130.40" cy="309.80" r="0.72" fill="#1a3558"/>
<circle cx="138.50" cy="309.80" r="0.72" fill="#1a3558"/>
<circle cx="141.20" cy="309.80" r="0.72" fill="#1a3558"/>
<circle cx="119.60" cy="312.20" r="0.72" fill="#1a3558"/>
<circle cx="125.00" cy="312.20" r="0.72" fill="#1a3558"/>
<circle cx="127.70" cy="312.20" r="0.72" fill="#1a3558"/>
<circle cx="130.40" cy="312.20" r="0.72" fill="#1a3558"/>
<circle cx="133.10" cy="312.20" r="0.72" fill="#1a3558"/>
<circle cx="135.80" cy="312.20" r="0.72" fill="#1a3558"/>
<circle cx="138.50" cy="312.20" r="0.72" fill="#1a3558"/>
<circle cx="141.20" cy="312.20" r="0.72" fill="#1a3558"/>
<circle cx="143.90" cy="312.20" r="0.72" fill="#1a3558"/>
<circle cx="119.60" cy="314.60" r="0.72" fill="#1a3558"/>
<circle cx="125.00" cy="314.60" r="0.72" fill="#1a3558"/>
<circle cx="130.40" cy="314.60" r="0.72" fill="#1a3558"/>
<circle cx="133.10" cy="314.60" r="0.72" fill="#1a3558"/>
<circle cx="135.80" cy="314.60" r="0.72" fill="#1a3558"/>
<circle cx="143.90" cy="314.60" r="0.72" fill="#1a3558"/>
<circle cx="116.90" cy="317.00" r="0.72" fill="#1a3558"/>
<circle cx="119.60" cy="317.00" r="0.72" fill="#1a3558"/>
<circle cx="122.30" cy="317.00" r="0.72" fill="#1a3558"/>
<circle cx="125.00" cy="317.00" r="0.72" fill="#1a3558"/>
<circle cx="127.70" cy="317.00" r="0.72" fill="#1a3558"/>
<circle cx="130.40" cy="317.00" r="0.72" fill="#1a3558"/>
<circle cx="133.10" cy="317.00" r="0.72" fill="#1a3558"/>
<circle cx="138.50" cy="317.00" r="0.72" fill="#1a3558"/>
<circle cx="141.20" cy="317.00" r="0.72" fill="#1a3558"/>
<circle cx="143.90" cy="317.00" r="0.72" fill="#1a3558"/>
<circle cx="122.30" cy="319.40" r="0.72" fill="#1a3558"/>
<circle cx="125.00" cy="319.40" r="0.72" fill="#1a3558"/>
<circle cx="127.70" cy="319.40" r="0.72" fill="#1a3558"/>
<circle cx="133.10" cy="319.40" r="0.72" fill="#1a3558"/>
<circle cx="135.80" cy="319.40" r="0.72" fill="#1a3558"/>
<circle cx="138.50" cy="319.40" r="0.72" fill="#1a3558"/>
<circle cx="127.70" cy="321.80" r="0.72" fill="#1a3558"/>
<circle cx="135.80" cy="321.80" r="0.72" fill="#1a3558"/>
<circle cx="127.70" cy="324.20" r="0.72" fill="#1a3558"/>
<circle cx="130.40" cy="324.20" r="0.72" fill="#1a3558"/>
<circle cx="133.10" cy="324.20" r="0.72" fill="#1a3558"/>
<circle cx="135.80" cy="324.20" r="0.72" fill="#1a3558"/>
<circle cx="138.50" cy="324.20" r="0.72" fill="#1a3558"/>
<circle cx="125.00" cy="326.60" r="0.72" fill="#1a3558"/>
<circle cx="127.70" cy="326.60" r="0.72" fill="#1a3558"/>
<circle cx="130.40" cy="326.60" r="0.72" fill="#1a3558"/>
<circle cx="133.10" cy="326.60" r="0.72" fill="#1a3558"/>
<circle cx="125.00" cy="329.00" r="0.72" fill="#1a3558"/>
<circle cx="133.10" cy="329.00" r="0.72" fill="#1a3558"/>
<circle cx="135.80" cy="329.00" r="0.72" fill="#1a3558"/>
<circle cx="127.70" cy="331.40" r="0.72" fill="#1a3558"/>
<circle cx="133.10" cy="331.40" r="0.72" fill="#1a3558"/>
<circle cx="130.3" cy="268.3" r="0.75" fill="#1a3558"/>
<circle cx="130.3" cy="273.3" r="0.75" fill="#1a3558"/>
<circle cx="130.3" cy="277.7" r="0.75" fill="#1a3558"/>
<circle cx="130.3" cy="279.4" r="0.75" fill="#1a3558"/>
<circle cx="130.3" cy="283.3" r="0.75" fill="#1a3558"/>
<circle cx="127.6" cy="287.5" r="0.75" fill="#1a3558"/>
<circle cx="130.6" cy="288.2" r="0.75" fill="#1a3558"/>
<circle cx="130.6" cy="291.1" r="0.75" fill="#1a3558"/>
<line x1="130.80" y1="306.40" x2="130.80" y2="319.80" stroke="#1a2c44" stroke-width="0.63"/>
<line x1="116.80" y1="313.50" x2="144.80" y2="313.50" stroke="#1a2c44" stroke-width="0.7"/>
<line x1="124.30" y1="319.80" x2="137.30" y2="319.80" stroke="#1a2c44" stroke-width="0.7"/>
<line x1="124.30" y1="306.40" x2="137.30" y2="306.40" stroke="#1a2c44" stroke-width="0.7"/>
<circle cx="265.00" cy="264.20" r="1.20" fill="#9a1438"/>
<circle cx="265.00" cy="266.80" r="1.20" fill="#9a1438"/>
<circle cx="265.00" cy="271.20" r="1.20" fill="#9a1438"/>
<circle cx="265.00" cy="273.20" r="1.20" fill="#9a1438"/>
<circle cx="265.00" cy="275.60" r="1.20" fill="#9a1438"/>
<circle cx="265.00" cy="277.50" r="1.20" fill="#9a1438"/>
<circle cx="265.00" cy="279.50" r="1.20" fill="#9a1438"/>
<circle cx="264.81" cy="283.36" r="1.25" fill="#9a1438"/>
<circle cx="264.03" cy="290.38" r="1.25" fill="#9a1438"/>
<circle cx="263.40" cy="292.22" r="1.25" fill="#9a1438"/>
<circle cx="265.00" cy="293.86" r="1.25" fill="#9a1438"/>
<circle cx="263.61" cy="296.26" r="1.25" fill="#9a1438"/>
<circle cx="265.64" cy="296.58" r="1.25" fill="#9a1438"/>
<circle cx="264.08" cy="298.54" r="1.25" fill="#9a1438"/>
<circle cx="263.71" cy="300.31" r="1.25" fill="#9a1438"/>
<circle cx="265.47" cy="299.55" r="1.25" fill="#9a1438"/>
<circle cx="264.96" cy="301.77" r="1.25" fill="#9a1438"/>
<circle cx="263.46" cy="304.26" r="1.25" fill="#9a1438"/>
<circle cx="265.76" cy="308.02" r="1.25" fill="#9a1438"/>
<circle cx="264.91" cy="309.58" r="1.25" fill="#9a1438"/>
<circle cx="266.95" cy="309.35" r="1.25" fill="#9a1438"/>
<circle cx="263.53" cy="311.63" r="1.25" fill="#9a1438"/>
<circle cx="263.63" cy="315.66" r="1.25" fill="#9a1438"/>
<circle cx="264.21" cy="317.44" r="1.25" fill="#9a1438"/>
<circle cx="264.18" cy="285.88" r="1.25" fill="#9a1438"/>
<circle cx="262.29" cy="292.50" r="1.25" fill="#9a1438"/>
<circle cx="262.61" cy="297.27" r="1.25" fill="#9a1438"/>
<circle cx="262.87" cy="299.51" r="1.25" fill="#9a1438"/>
<circle cx="262.62" cy="305.92" r="1.25" fill="#9a1438"/>
<circle cx="263.01" cy="308.54" r="1.25" fill="#9a1438"/>
<circle cx="262.78" cy="313.40" r="1.25" fill="#9a1438"/>
<circle cx="263.13" cy="317.72" r="1.25" fill="#9a1438"/>
<circle cx="263.72" cy="318.72" r="1.25" fill="#9a1438"/>
<circle cx="265.95" cy="318.90" r="1.25" fill="#9a1438"/>
<circle cx="267.32" cy="317.97" r="1.25" fill="#9a1438"/>
<circle cx="266.85" cy="315.48" r="1.25" fill="#9a1438"/>
<circle cx="267.52" cy="310.93" r="1.25" fill="#9a1438"/>
<circle cx="267.44" cy="308.50" r="1.25" fill="#9a1438"/>
<circle cx="267.60" cy="297.46" r="1.25" fill="#9a1438"/>
<circle cx="266.19" cy="288.72" r="1.25" fill="#9a1438"/>
<circle cx="265.48" cy="282.39" r="1.25" fill="#9a1438"/>
<circle cx="263.84" cy="320.83" r="1.20" fill="#9a1438"/>
<circle cx="265.73" cy="321.02" r="1.20" fill="#9a1438"/>
<circle cx="268.31" cy="321.18" r="1.20" fill="#9a1438"/>
<circle cx="260.46" cy="322.91" r="1.20" fill="#9a1438"/>
<circle cx="262.96" cy="323.04" r="1.20" fill="#9a1438"/>
<circle cx="264.72" cy="322.26" r="1.20" fill="#9a1438"/>
<circle cx="267.20" cy="322.73" r="1.20" fill="#9a1438"/>
<circle cx="269.39" cy="322.79" r="1.20" fill="#9a1438"/>
<circle cx="261.87" cy="324.24" r="1.20" fill="#9a1438"/>
<circle cx="263.79" cy="324.47" r="1.20" fill="#9a1438"/>
<circle cx="266.13" cy="324.63" r="1.20" fill="#9a1438"/>
<circle cx="268.33" cy="324.84" r="1.20" fill="#9a1438"/>
<circle cx="258.64" cy="326.13" r="1.20" fill="#9a1438"/>
<circle cx="260.96" cy="326.69" r="1.20" fill="#9a1438"/>
<circle cx="263.24" cy="326.07" r="1.20" fill="#9a1438"/>
<circle cx="267.29" cy="326.11" r="1.20" fill="#9a1438"/>
<circle cx="264.06" cy="328.39" r="1.20" fill="#9a1438"/>
<circle cx="268.29" cy="328.18" r="1.20" fill="#9a1438"/>
<circle cx="270.12" cy="328.17" r="1.20" fill="#9a1438"/>
<circle cx="260.40" cy="330.36" r="1.20" fill="#9a1438"/>
<circle cx="262.62" cy="329.70" r="1.20" fill="#9a1438"/>
<circle cx="267.21" cy="330.53" r="1.20" fill="#9a1438"/>
<circle cx="270.82" cy="330.41" r="1.20" fill="#9a1438"/>
<circle cx="257.22" cy="331.77" r="1.20" fill="#9a1438"/>
<circle cx="259.50" cy="332.04" r="1.20" fill="#9a1438"/>
<circle cx="261.66" cy="331.87" r="1.20" fill="#9a1438"/>
<circle cx="264.30" cy="331.51" r="1.20" fill="#9a1438"/>
<circle cx="265.54" cy="331.73" r="1.20" fill="#9a1438"/>
<circle cx="267.75" cy="331.62" r="1.20" fill="#9a1438"/>
<circle cx="269.80" cy="332.26" r="1.20" fill="#9a1438"/>
<circle cx="256.80" cy="334.05" r="1.20" fill="#9a1438"/>
<circle cx="258.79" cy="334.14" r="1.20" fill="#9a1438"/>
<circle cx="263.23" cy="333.43" r="1.20" fill="#9a1438"/>
<circle cx="265.03" cy="333.83" r="1.20" fill="#9a1438"/>
<circle cx="267.32" cy="333.96" r="1.20" fill="#9a1438"/>
<circle cx="255.36" cy="335.88" r="1.20" fill="#9a1438"/>
<circle cx="259.22" cy="335.32" r="1.20" fill="#9a1438"/>
<circle cx="261.32" cy="335.58" r="1.20" fill="#9a1438"/>
<circle cx="263.64" cy="335.32" r="1.20" fill="#9a1438"/>
<circle cx="265.75" cy="335.25" r="1.20" fill="#9a1438"/>
<circle cx="268.06" cy="335.75" r="1.20" fill="#9a1438"/>
<circle cx="272.63" cy="335.21" r="1.20" fill="#9a1438"/>
<circle cx="256.24" cy="337.20" r="1.20" fill="#9a1438"/>
<circle cx="260.62" cy="337.80" r="1.20" fill="#9a1438"/>
<circle cx="264.89" cy="337.24" r="1.20" fill="#9a1438"/>
<circle cx="271.59" cy="337.67" r="1.20" fill="#9a1438"/>
<circle cx="259.28" cy="339.76" r="1.20" fill="#9a1438"/>
<circle cx="265.89" cy="339.08" r="1.20" fill="#9a1438"/>
<circle cx="274.55" cy="339.20" r="1.20" fill="#9a1438"/>
<circle cx="256.58" cy="341.52" r="1.20" fill="#9a1438"/>
<circle cx="258.38" cy="341.61" r="1.20" fill="#9a1438"/>
<circle cx="260.63" cy="341.08" r="1.20" fill="#9a1438"/>
<circle cx="262.77" cy="341.36" r="1.20" fill="#9a1438"/>
<circle cx="266.83" cy="341.10" r="1.20" fill="#9a1438"/>
<circle cx="271.38" cy="341.64" r="1.20" fill="#9a1438"/>
<circle cx="273.71" cy="341.10" r="1.20" fill="#9a1438"/>
<circle cx="257.70" cy="342.65" r="1.20" fill="#9a1438"/>
<circle cx="264.25" cy="343.41" r="1.20" fill="#9a1438"/>
<circle cx="268.47" cy="343.21" r="1.20" fill="#9a1438"/>
<circle cx="270.22" cy="342.82" r="1.20" fill="#9a1438"/>
<circle cx="272.00" cy="343.28" r="1.20" fill="#9a1438"/>
<circle cx="258.88" cy="344.83" r="1.20" fill="#9a1438"/>
<circle cx="260.58" cy="344.77" r="1.20" fill="#9a1438"/>
<circle cx="262.50" cy="344.73" r="1.20" fill="#9a1438"/>
<circle cx="265.14" cy="344.74" r="1.20" fill="#9a1438"/>
<circle cx="267.32" cy="345.19" r="1.20" fill="#9a1438"/>
<circle cx="268.92" cy="345.31" r="1.20" fill="#9a1438"/>
<circle cx="271.12" cy="344.51" r="1.20" fill="#9a1438"/>
<circle cx="259.91" cy="346.49" r="1.20" fill="#9a1438"/>
<circle cx="261.38" cy="346.86" r="1.20" fill="#9a1438"/>
<circle cx="263.55" cy="347.12" r="1.20" fill="#9a1438"/>
<circle cx="265.62" cy="346.65" r="1.20" fill="#9a1438"/>
<circle cx="268.35" cy="346.85" r="1.20" fill="#9a1438"/>
<circle cx="270.00" cy="346.89" r="1.20" fill="#9a1438"/>
<circle cx="260.29" cy="348.49" r="1.20" fill="#9a1438"/>
<circle cx="262.20" cy="350.10" r="1.20" fill="#9a1438"/>
<circle cx="263.50" cy="350.30" r="1.20" fill="#9a1438"/>
<circle cx="265.99" cy="350.80" r="1.20" fill="#9a1438"/>
<circle cx="267.67" cy="350.21" r="1.20" fill="#9a1438"/>
<circle cx="265.05" cy="352.14" r="1.20" fill="#9a1438"/>
<circle cx="267.39" cy="352.55" r="1.20" fill="#9a1438"/>
<circle cx="261.64" cy="354.46" r="1.20" fill="#9a1438"/>
<circle cx="263.64" cy="353.87" r="1.20" fill="#9a1438"/>
<circle cx="265.54" cy="353.97" r="1.20" fill="#9a1438"/>
<circle cx="267.73" cy="354.34" r="1.20" fill="#9a1438"/>
<circle cx="262.99" cy="355.59" r="1.20" fill="#9a1438"/>
<circle cx="267.18" cy="355.71" r="1.20" fill="#9a1438"/>
<circle cx="263.60" cy="357.61" r="1.20" fill="#9a1438"/>
<circle cx="265.85" cy="357.85" r="1.20" fill="#9a1438"/>
<circle cx="268.29" cy="357.82" r="1.20" fill="#9a1438"/>
<circle cx="264.90" cy="359.53" r="1.20" fill="#9a1438"/>
<circle cx="267.38" cy="359.53" r="1.20" fill="#9a1438"/>
<circle cx="264.02" cy="361.53" r="1.20" fill="#9a1438"/>
<circle cx="265.84" cy="361.43" r="1.20" fill="#9a1438"/>
<circle cx="267.37" cy="363.44" r="1.20" fill="#9a1438"/>
<circle cx="267.34" cy="367.42" r="1.20" fill="#9a1438"/>
<circle cx="263.51" cy="368.94" r="1.20" fill="#9a1438"/>
<circle cx="265.64" cy="368.58" r="1.20" fill="#9a1438"/>
<circle cx="261.63" cy="319.91" r="1.20" fill="#9a1438"/>
<circle cx="259.95" cy="323.47" r="1.20" fill="#9a1438"/>
<circle cx="258.81" cy="325.81" r="1.20" fill="#9a1438"/>
<circle cx="256.95" cy="329.23" r="1.20" fill="#9a1438"/>
<circle cx="257.13" cy="331.35" r="1.20" fill="#9a1438"/>
<circle cx="256.58" cy="333.26" r="1.20" fill="#9a1438"/>
<circle cx="254.74" cy="336.95" r="1.20" fill="#9a1438"/>
<circle cx="253.24" cy="338.60" r="1.20" fill="#9a1438"/>
<circle cx="255.87" cy="342.13" r="1.20" fill="#9a1438"/>
<circle cx="257.13" cy="343.18" r="1.20" fill="#9a1438"/>
<circle cx="258.37" cy="345.69" r="1.20" fill="#9a1438"/>
<circle cx="258.71" cy="347.39" r="1.20" fill="#9a1438"/>
<circle cx="259.68" cy="349.60" r="1.20" fill="#9a1438"/>
<circle cx="259.87" cy="351.55" r="1.20" fill="#9a1438"/>
<circle cx="259.86" cy="353.78" r="1.20" fill="#9a1438"/>
<circle cx="260.68" cy="355.59" r="1.20" fill="#9a1438"/>
<circle cx="261.23" cy="356.98" r="1.20" fill="#9a1438"/>
<circle cx="263.07" cy="361.56" r="1.20" fill="#9a1438"/>
<circle cx="262.72" cy="363.68" r="1.20" fill="#9a1438"/>
<circle cx="262.69" cy="367.51" r="1.20" fill="#9a1438"/>
<circle cx="263.44" cy="370.27" r="1.20" fill="#9a1438"/>
<circle cx="265.12" cy="370.66" r="1.20" fill="#9a1438"/>
<circle cx="267.22" cy="370.24" r="1.20" fill="#9a1438"/>
<circle cx="267.38" cy="361.26" r="1.20" fill="#9a1438"/>
<circle cx="268.67" cy="357.63" r="1.20" fill="#9a1438"/>
<circle cx="268.12" cy="355.50" r="1.20" fill="#9a1438"/>
<circle cx="269.50" cy="351.45" r="1.20" fill="#9a1438"/>
<circle cx="269.87" cy="349.18" r="1.20" fill="#9a1438"/>
<circle cx="271.31" cy="345.42" r="1.20" fill="#9a1438"/>
<circle cx="272.69" cy="343.26" r="1.20" fill="#9a1438"/>
<circle cx="273.57" cy="341.40" r="1.20" fill="#9a1438"/>
<circle cx="276.33" cy="338.63" r="1.20" fill="#9a1438"/>
<circle cx="273.92" cy="335.39" r="1.20" fill="#9a1438"/>
<circle cx="272.15" cy="333.75" r="1.20" fill="#9a1438"/>
<circle cx="271.92" cy="331.15" r="1.20" fill="#9a1438"/>
<circle cx="271.04" cy="326.80" r="1.20" fill="#9a1438"/>
<circle cx="270.18" cy="324.72" r="1.20" fill="#9a1438"/>
<circle cx="269.38" cy="321.06" r="1.20" fill="#9a1438"/>
<circle cx="267.74" cy="320.09" r="1.20" fill="#9a1438"/>
<circle cx="265.00" cy="251.80" r="1.0" fill="#5e1934"/>
<circle cx="265.00" cy="264.20" r="0.9" fill="#d81a46"/>
<circle cx="265.00" cy="266.80" r="0.9" fill="#d81a46"/>
<circle cx="265.00" cy="271.20" r="0.9" fill="#d81a46"/>
<circle cx="265.00" cy="273.20" r="0.9" fill="#d81a46"/>
<circle cx="265.00" cy="275.60" r="0.9" fill="#d81a46"/>
<circle cx="265.00" cy="277.50" r="0.9" fill="#d81a46"/>
<circle cx="265.00" cy="279.50" r="0.9" fill="#d81a46"/>
<circle cx="264.81" cy="283.36" r="0.9" fill="#d81a46"/>
<circle cx="264.03" cy="290.38" r="0.9" fill="#d81a46"/>
<circle cx="263.40" cy="292.22" r="0.9" fill="#d81a46"/>
<circle cx="265.00" cy="293.86" r="0.9" fill="#d81a46"/>
<circle cx="263.61" cy="296.26" r="0.9" fill="#d81a46"/>
<circle cx="265.64" cy="296.58" r="0.9" fill="#d81a46"/>
<circle cx="264.08" cy="298.54" r="0.9" fill="#d81a46"/>
<circle cx="263.71" cy="300.31" r="0.9" fill="#d81a46"/>
<circle cx="265.47" cy="299.55" r="0.9" fill="#d81a46"/>
<circle cx="264.96" cy="301.77" r="0.9" fill="#d81a46"/>
<circle cx="263.46" cy="304.26" r="0.9" fill="#d81a46"/>
<circle cx="265.37" cy="304.09" r="0.90" fill="#d81a46" stroke="#9a1438" stroke-width="0.56"/>
<circle cx="265.76" cy="308.02" r="0.9" fill="#d81a46"/>
<circle cx="264.91" cy="309.58" r="0.9" fill="#d81a46"/>
<circle cx="266.95" cy="309.35" r="0.9" fill="#d81a46"/>
<circle cx="263.53" cy="311.63" r="0.9" fill="#d81a46"/>
<circle cx="266.09" cy="311.81" r="0.90" fill="#d81a46" stroke="#9a1438" stroke-width="0.56"/>
<circle cx="263.63" cy="315.66" r="0.9" fill="#d81a46"/>
<circle cx="265.30" cy="314.95" r="0.90" fill="#d81a46" stroke="#9a1438" stroke-width="0.56"/>
<circle cx="264.21" cy="317.44" r="0.9" fill="#d81a46"/>
<circle cx="264.18" cy="285.88" r="0.9" fill="#d81a46"/>
<circle cx="262.29" cy="292.50" r="0.9" fill="#d81a46"/>
<circle cx="262.15" cy="294.85" r="0.90" fill="#d81a46" stroke="#9a1438" stroke-width="0.56"/>
<circle cx="262.61" cy="297.27" r="0.9" fill="#d81a46"/>
<circle cx="262.87" cy="299.51" r="0.9" fill="#d81a46"/>
<circle cx="262.62" cy="305.92" r="0.9" fill="#d81a46"/>
<circle cx="263.01" cy="308.54" r="0.9" fill="#d81a46"/>
<circle cx="262.78" cy="313.40" r="0.9" fill="#d81a46"/>
<circle cx="263.13" cy="317.72" r="0.9" fill="#d81a46"/>
<circle cx="263.72" cy="318.72" r="0.9" fill="#d81a46"/>
<circle cx="265.95" cy="318.90" r="0.9" fill="#d81a46"/>
<circle cx="267.32" cy="317.97" r="0.9" fill="#d81a46"/>
<circle cx="266.85" cy="315.48" r="0.9" fill="#d81a46"/>
<circle cx="267.52" cy="310.93" r="0.9" fill="#d81a46"/>
<circle cx="267.44" cy="308.50" r="0.9" fill="#d81a46"/>
<circle cx="267.51" cy="300.32" r="0.90" fill="#d81a46" stroke="#9a1438" stroke-width="0.56"/>
<circle cx="267.60" cy="297.46" r="0.9" fill="#d81a46"/>
<circle cx="266.27" cy="291.14" r="0.90" fill="#d81a46" stroke="#9a1438" stroke-width="0.56"/>
<circle cx="266.19" cy="288.72" r="0.9" fill="#d81a46"/>
<circle cx="265.48" cy="282.39" r="0.9" fill="#d81a46"/>
<circle cx="261.90" cy="320.70" r="0.90" fill="#d81a46" stroke="#9a1438" stroke-width="0.48"/>
<circle cx="263.84" cy="320.83" r="0.9" fill="#d81a46"/>
<circle cx="265.73" cy="321.02" r="0.9" fill="#d81a46"/>
<circle cx="268.31" cy="321.18" r="0.9" fill="#d81a46"/>
<circle cx="260.46" cy="322.91" r="0.9" fill="#d81a46"/>
<circle cx="262.96" cy="323.04" r="0.9" fill="#d81a46"/>
<circle cx="264.72" cy="322.26" r="0.9" fill="#d81a46"/>
<circle cx="267.20" cy="322.73" r="0.9" fill="#d81a46"/>
<circle cx="269.39" cy="322.79" r="0.9" fill="#d81a46"/>
<circle cx="259.63" cy="324.93" r="0.90" fill="#d81a46" stroke="#9a1438" stroke-width="0.48"/>
<circle cx="261.87" cy="324.24" r="0.9" fill="#d81a46"/>
<circle cx="263.79" cy="324.47" r="0.9" fill="#d81a46"/>
<circle cx="266.13" cy="324.63" r="0.9" fill="#d81a46"/>
<circle cx="268.33" cy="324.84" r="0.9" fill="#d81a46"/>
<circle cx="269.83" cy="324.24" r="0.90" fill="#d81a46" stroke="#9a1438" stroke-width="0.48"/>
<circle cx="258.64" cy="326.13" r="0.9" fill="#d81a46"/>
<circle cx="260.96" cy="326.69" r="0.9" fill="#d81a46"/>
<circle cx="263.24" cy="326.07" r="0.9" fill="#d81a46"/>
<circle cx="267.29" cy="326.11" r="0.9" fill="#d81a46"/>
<circle cx="269.01" cy="326.58" r="0.90" fill="#d81a46" stroke="#9a1438" stroke-width="0.48"/>
<circle cx="257.86" cy="328.07" r="0.90" fill="#d81a46" stroke="#9a1438" stroke-width="0.48"/>
<circle cx="261.32" cy="328.31" r="0.90" fill="#d81a46" stroke="#9a1438" stroke-width="0.48"/>
<circle cx="264.06" cy="328.39" r="0.9" fill="#d81a46"/>
<circle cx="266.00" cy="328.21" r="0.90" fill="#d81a46" stroke="#9a1438" stroke-width="0.48"/>
<circle cx="268.29" cy="328.18" r="0.9" fill="#d81a46"/>
<circle cx="270.12" cy="328.17" r="0.9" fill="#d81a46"/>
<circle cx="260.40" cy="330.36" r="0.9" fill="#d81a46"/>
<circle cx="262.62" cy="329.70" r="0.9" fill="#d81a46"/>
<circle cx="267.21" cy="330.53" r="0.9" fill="#d81a46"/>
<circle cx="270.82" cy="330.41" r="0.9" fill="#d81a46"/>
<circle cx="257.22" cy="331.77" r="0.9" fill="#d81a46"/>
<circle cx="259.50" cy="332.04" r="0.9" fill="#d81a46"/>
<circle cx="261.66" cy="331.87" r="0.9" fill="#d81a46"/>
<circle cx="264.30" cy="331.51" r="0.9" fill="#d81a46"/>
<circle cx="265.54" cy="331.73" r="0.9" fill="#d81a46"/>
<circle cx="267.75" cy="331.62" r="0.9" fill="#d81a46"/>
<circle cx="269.80" cy="332.26" r="0.9" fill="#d81a46"/>
<circle cx="256.80" cy="334.05" r="0.9" fill="#d81a46"/>
<circle cx="258.79" cy="334.14" r="0.9" fill="#d81a46"/>
<circle cx="263.23" cy="333.43" r="0.9" fill="#d81a46"/>
<circle cx="265.03" cy="333.83" r="0.9" fill="#d81a46"/>
<circle cx="267.32" cy="333.96" r="0.9" fill="#d81a46"/>
<circle cx="269.23" cy="334.19" r="0.90" fill="#d81a46" stroke="#9a1438" stroke-width="0.48"/>
<circle cx="255.36" cy="335.88" r="0.9" fill="#d81a46"/>
<circle cx="257.35" cy="335.42" r="0.90" fill="#d81a46" stroke="#9a1438" stroke-width="0.48"/>
<circle cx="259.22" cy="335.32" r="0.9" fill="#d81a46"/>
<circle cx="261.32" cy="335.58" r="0.9" fill="#d81a46"/>
<circle cx="263.64" cy="335.32" r="0.9" fill="#d81a46"/>
<circle cx="265.75" cy="335.25" r="0.9" fill="#d81a46"/>
<circle cx="268.06" cy="335.75" r="0.9" fill="#d81a46"/>
<circle cx="272.63" cy="335.21" r="0.9" fill="#d81a46"/>
<circle cx="256.24" cy="337.20" r="0.9" fill="#d81a46"/>
<circle cx="260.62" cy="337.80" r="0.9" fill="#d81a46"/>
<circle cx="262.84" cy="337.27" r="0.90" fill="#d81a46" stroke="#9a1438" stroke-width="0.48"/>
<circle cx="264.89" cy="337.24" r="0.9" fill="#d81a46"/>
<circle cx="266.79" cy="337.32" r="0.90" fill="#d81a46" stroke="#9a1438" stroke-width="0.48"/>
<circle cx="271.59" cy="337.67" r="0.9" fill="#d81a46"/>
<circle cx="274.98" cy="337.64" r="0.90" fill="#d81a46" stroke="#9a1438" stroke-width="0.48"/>
<circle cx="259.28" cy="339.76" r="0.9" fill="#d81a46"/>
<circle cx="264.20" cy="339.69" r="0.90" fill="#d81a46" stroke="#9a1438" stroke-width="0.48"/>
<circle cx="265.89" cy="339.08" r="0.9" fill="#d81a46"/>
<circle cx="267.81" cy="339.06" r="0.90" fill="#d81a46" stroke="#9a1438" stroke-width="0.48"/>
<circle cx="269.88" cy="339.43" r="0.90" fill="#d81a46" stroke="#9a1438" stroke-width="0.48"/>
<circle cx="272.51" cy="339.75" r="0.90" fill="#d81a46" stroke="#9a1438" stroke-width="0.48"/>
<circle cx="274.55" cy="339.20" r="0.9" fill="#d81a46"/>
<circle cx="256.58" cy="341.52" r="0.9" fill="#d81a46"/>
<circle cx="258.38" cy="341.61" r="0.9" fill="#d81a46"/>
<circle cx="260.63" cy="341.08" r="0.9" fill="#d81a46"/>
<circle cx="262.77" cy="341.36" r="0.9" fill="#d81a46"/>
<circle cx="264.66" cy="341.00" r="0.90" fill="#d81a46" stroke="#9a1438" stroke-width="0.48"/>
<circle cx="266.83" cy="341.10" r="0.9" fill="#d81a46"/>
<circle cx="269.48" cy="341.19" r="0.90" fill="#d81a46" stroke="#9a1438" stroke-width="0.48"/>
<circle cx="271.38" cy="341.64" r="0.9" fill="#d81a46"/>
<circle cx="273.71" cy="341.10" r="0.9" fill="#d81a46"/>
<circle cx="257.70" cy="342.65" r="0.9" fill="#d81a46"/>
<circle cx="259.95" cy="343.36" r="0.90" fill="#d81a46" stroke="#9a1438" stroke-width="0.48"/>
<circle cx="264.25" cy="343.41" r="0.9" fill="#d81a46"/>
<circle cx="268.47" cy="343.21" r="0.9" fill="#d81a46"/>
<circle cx="270.22" cy="342.82" r="0.9" fill="#d81a46"/>
<circle cx="272.00" cy="343.28" r="0.9" fill="#d81a46"/>
<circle cx="258.88" cy="344.83" r="0.9" fill="#d81a46"/>
<circle cx="260.58" cy="344.77" r="0.9" fill="#d81a46"/>
<circle cx="262.50" cy="344.73" r="0.9" fill="#d81a46"/>
<circle cx="265.14" cy="344.74" r="0.9" fill="#d81a46"/>
<circle cx="267.32" cy="345.19" r="0.9" fill="#d81a46"/>
<circle cx="268.92" cy="345.31" r="0.9" fill="#d81a46"/>
<circle cx="271.12" cy="344.51" r="0.9" fill="#d81a46"/>
<circle cx="259.91" cy="346.49" r="0.9" fill="#d81a46"/>
<circle cx="261.38" cy="346.86" r="0.9" fill="#d81a46"/>
<circle cx="263.55" cy="347.12" r="0.9" fill="#d81a46"/>
<circle cx="265.62" cy="346.65" r="0.9" fill="#d81a46"/>
<circle cx="268.35" cy="346.85" r="0.9" fill="#d81a46"/>
<circle cx="270.00" cy="346.89" r="0.9" fill="#d81a46"/>
<circle cx="260.29" cy="348.49" r="0.9" fill="#d81a46"/>
<circle cx="264.86" cy="348.71" r="0.90" fill="#d81a46" stroke="#9a1438" stroke-width="0.48"/>
<circle cx="267.02" cy="348.38" r="0.90" fill="#d81a46" stroke="#9a1438" stroke-width="0.48"/>
<circle cx="269.31" cy="348.70" r="0.90" fill="#d81a46" stroke="#9a1438" stroke-width="0.48"/>
<circle cx="262.20" cy="350.10" r="0.9" fill="#d81a46"/>
<circle cx="263.50" cy="350.30" r="0.9" fill="#d81a46"/>
<circle cx="265.99" cy="350.80" r="0.9" fill="#d81a46"/>
<circle cx="267.67" cy="350.21" r="0.9" fill="#d81a46"/>
<circle cx="265.05" cy="352.14" r="0.9" fill="#d81a46"/>
<circle cx="267.39" cy="352.55" r="0.9" fill="#d81a46"/>
<circle cx="261.64" cy="354.46" r="0.9" fill="#d81a46"/>
<circle cx="263.64" cy="353.87" r="0.9" fill="#d81a46"/>
<circle cx="265.54" cy="353.97" r="0.9" fill="#d81a46"/>
<circle cx="267.73" cy="354.34" r="0.9" fill="#d81a46"/>
<circle cx="262.99" cy="355.59" r="0.9" fill="#d81a46"/>
<circle cx="267.18" cy="355.71" r="0.9" fill="#d81a46"/>
<circle cx="263.60" cy="357.61" r="0.9" fill="#d81a46"/>
<circle cx="265.85" cy="357.85" r="0.9" fill="#d81a46"/>
<circle cx="268.29" cy="357.82" r="0.9" fill="#d81a46"/>
<circle cx="264.90" cy="359.53" r="0.9" fill="#d81a46"/>
<circle cx="267.38" cy="359.53" r="0.9" fill="#d81a46"/>
<circle cx="264.02" cy="361.53" r="0.9" fill="#d81a46"/>
<circle cx="265.84" cy="361.43" r="0.9" fill="#d81a46"/>
<circle cx="265.31" cy="363.21" r="0.90" fill="#d81a46" stroke="#9a1438" stroke-width="0.48"/>
<circle cx="267.37" cy="363.44" r="0.9" fill="#d81a46"/>
<circle cx="266.03" cy="365.50" r="0.90" fill="#d81a46" stroke="#9a1438" stroke-width="0.48"/>
<circle cx="267.34" cy="367.42" r="0.9" fill="#d81a46"/>
<circle cx="263.51" cy="368.94" r="0.9" fill="#d81a46"/>
<circle cx="265.64" cy="368.58" r="0.9" fill="#d81a46"/>
<circle cx="261.63" cy="319.91" r="0.9" fill="#d81a46"/>
<circle cx="260.88" cy="321.35" r="0.90" fill="#d81a46" stroke="#9a1438" stroke-width="0.48"/>
<circle cx="259.95" cy="323.47" r="0.9" fill="#d81a46"/>
<circle cx="258.81" cy="325.81" r="0.9" fill="#d81a46"/>
<circle cx="256.95" cy="329.23" r="0.9" fill="#d81a46"/>
<circle cx="257.13" cy="331.35" r="0.9" fill="#d81a46"/>
<circle cx="256.58" cy="333.26" r="0.9" fill="#d81a46"/>
<circle cx="255.97" cy="334.51" r="0.90" fill="#d81a46" stroke="#9a1438" stroke-width="0.48"/>
<circle cx="254.74" cy="336.95" r="0.9" fill="#d81a46"/>
<circle cx="253.24" cy="338.60" r="0.9" fill="#d81a46"/>
<circle cx="254.82" cy="340.37" r="0.90" fill="#d81a46" stroke="#9a1438" stroke-width="0.48"/>
<circle cx="255.87" cy="342.13" r="0.9" fill="#d81a46"/>
<circle cx="257.13" cy="343.18" r="0.9" fill="#d81a46"/>
<circle cx="258.37" cy="345.69" r="0.9" fill="#d81a46"/>
<circle cx="258.71" cy="347.39" r="0.9" fill="#d81a46"/>
<circle cx="259.68" cy="349.60" r="0.9" fill="#d81a46"/>
<circle cx="259.87" cy="351.55" r="0.9" fill="#d81a46"/>
<circle cx="259.86" cy="353.78" r="0.9" fill="#d81a46"/>
<circle cx="260.68" cy="355.59" r="0.9" fill="#d81a46"/>
<circle cx="261.23" cy="356.98" r="0.9" fill="#d81a46"/>
<circle cx="263.07" cy="361.56" r="0.9" fill="#d81a46"/>
<circle cx="262.72" cy="363.68" r="0.9" fill="#d81a46"/>
<circle cx="262.69" cy="367.51" r="0.9" fill="#d81a46"/>
<circle cx="262.26" cy="369.39" r="0.90" fill="#d81a46" stroke="#9a1438" stroke-width="0.48"/>
<circle cx="263.44" cy="370.27" r="0.9" fill="#d81a46"/>
<circle cx="265.12" cy="370.66" r="0.9" fill="#d81a46"/>
<circle cx="267.22" cy="370.24" r="0.9" fill="#d81a46"/>
<circle cx="266.82" cy="367.98" r="0.90" fill="#d81a46" stroke="#9a1438" stroke-width="0.48"/>
<circle cx="267.38" cy="361.26" r="0.9" fill="#d81a46"/>
<circle cx="267.91" cy="359.04" r="0.90" fill="#d81a46" stroke="#9a1438" stroke-width="0.48"/>
<circle cx="268.67" cy="357.63" r="0.9" fill="#d81a46"/>
<circle cx="268.12" cy="355.50" r="0.9" fill="#d81a46"/>
<circle cx="268.69" cy="353.55" r="0.90" fill="#d81a46" stroke="#9a1438" stroke-width="0.48"/>
<circle cx="269.50" cy="351.45" r="0.9" fill="#d81a46"/>
<circle cx="269.87" cy="349.18" r="0.9" fill="#d81a46"/>
<circle cx="271.31" cy="345.42" r="0.9" fill="#d81a46"/>
<circle cx="272.69" cy="343.26" r="0.9" fill="#d81a46"/>
<circle cx="273.57" cy="341.40" r="0.9" fill="#d81a46"/>
<circle cx="275.36" cy="340.45" r="0.90" fill="#d81a46" stroke="#9a1438" stroke-width="0.48"/>
<circle cx="276.33" cy="338.63" r="0.9" fill="#d81a46"/>
<circle cx="273.92" cy="335.39" r="0.9" fill="#d81a46"/>
<circle cx="272.15" cy="333.75" r="0.9" fill="#d81a46"/>
<circle cx="271.92" cy="331.15" r="0.9" fill="#d81a46"/>
<circle cx="271.12" cy="329.27" r="0.90" fill="#d81a46" stroke="#9a1438" stroke-width="0.48"/>
<circle cx="271.04" cy="326.80" r="0.9" fill="#d81a46"/>
<circle cx="270.18" cy="324.72" r="0.9" fill="#d81a46"/>
<circle cx="270.28" cy="323.33" r="0.90" fill="#d81a46" stroke="#9a1438" stroke-width="0.48"/>
<circle cx="269.38" cy="321.06" r="0.9" fill="#d81a46"/>
<circle cx="267.74" cy="320.09" r="0.9" fill="#d81a46"/>
<circle cx="265.00" cy="374.50" r="0.8" fill="#5e1934"/>
<line x1="265.00" y1="323.20" x2="265.00" y2="346.30" stroke="#2a2a2a" stroke-width="0.81"/>
<line x1="251.20" y1="337.30" x2="278.80" y2="337.30" stroke="#2a2a2a" stroke-width="0.9"/>
<line x1="258.20" y1="346.30" x2="271.80" y2="346.30" stroke="#2a2a2a" stroke-width="0.9"/>
<line x1="258.20" y1="323.20" x2="271.80" y2="323.20" stroke="#2a2a2a" stroke-width="0.9"/>
<polygon points="300.50,319.50 297.50,322.00 296.00,326.00 297.50,328.00 297.50,340.00 295.50,343.30 297.50,350.00 296.00,354.50 300.00,357.00 300.50,361.50 311.50,361.50 313.50,357.00 316.00,354.50 314.00,350.00 315.50,343.30 314.00,340.00 313.50,328.00 314.50,326.00 314.50,322.00 314.00,319.50" fill="#f0f5fa" stroke="#f0f5fa" stroke-width="1" stroke-linejoin="round"/>
<circle cx="305.3" cy="274.7" r="1.2" fill="#9dbbd8"/>
<circle cx="305.3" cy="289.1" r="1.2" fill="#9dbbd8"/>
<circle cx="303.7" cy="297" r="1.2" fill="#9dbbd8"/>
<circle cx="306.9" cy="298.5" r="1.2" fill="#9dbbd8"/>
<circle cx="305.3" cy="301.7" r="1.2" fill="#9dbbd8"/>
<circle cx="305.3" cy="308.3" r="1.2" fill="#9dbbd8"/>
<circle cx="305.3" cy="311.2" r="1.2" fill="#9dbbd8"/>
<circle cx="305.5" cy="317" r="1.2" fill="#9dbbd8"/>
<circle cx="305.5" cy="318.4" r="1.2" fill="#9dbbd8"/>
<circle cx="305.5" cy="364.1" r="1.2" fill="#9dbbd8"/>
<circle cx="303.5" cy="367.5" r="1.2" fill="#9dbbd8"/>
<circle cx="307" cy="367.5" r="1.2" fill="#9dbbd8"/>
<circle cx="300.00" cy="320.50" r="1.1" fill="#8fb2d6"/>
<circle cx="302.70" cy="320.50" r="1.1" fill="#8fb2d6"/>
<circle cx="305.40" cy="320.50" r="1.1" fill="#8fb2d6"/>
<circle cx="310.80" cy="320.50" r="1.1" fill="#8fb2d6"/>
<circle cx="313.50" cy="320.50" r="1.1" fill="#8fb2d6"/>
<circle cx="302.70" cy="322.87" r="1.1" fill="#8fb2d6"/>
<circle cx="305.40" cy="322.87" r="1.1" fill="#8fb2d6"/>
<circle cx="308.10" cy="322.87" r="1.1" fill="#8fb2d6"/>
<circle cx="310.80" cy="322.87" r="1.1" fill="#8fb2d6"/>
<circle cx="313.50" cy="322.87" r="1.1" fill="#8fb2d6"/>
<circle cx="300.00" cy="325.24" r="1.1" fill="#8fb2d6"/>
<circle cx="305.40" cy="325.24" r="1.1" fill="#8fb2d6"/>
<circle cx="308.10" cy="325.24" r="1.1" fill="#8fb2d6"/>
<circle cx="310.80" cy="325.24" r="1.1" fill="#8fb2d6"/>
<circle cx="313.50" cy="325.24" r="1.1" fill="#8fb2d6"/>
<circle cx="302.70" cy="327.61" r="1.1" fill="#8fb2d6"/>
<circle cx="308.10" cy="327.61" r="1.1" fill="#8fb2d6"/>
<circle cx="313.50" cy="327.61" r="1.1" fill="#8fb2d6"/>
<circle cx="300.00" cy="329.98" r="1.1" fill="#8fb2d6"/>
<circle cx="308.10" cy="329.98" r="1.1" fill="#8fb2d6"/>
<circle cx="310.80" cy="329.98" r="1.1" fill="#8fb2d6"/>
<circle cx="300.00" cy="332.35" r="1.1" fill="#8fb2d6"/>
<circle cx="302.70" cy="332.35" r="1.1" fill="#8fb2d6"/>
<circle cx="305.40" cy="332.35" r="1.1" fill="#8fb2d6"/>
<circle cx="310.80" cy="332.35" r="1.1" fill="#8fb2d6"/>
<circle cx="302.70" cy="334.72" r="1.1" fill="#8fb2d6"/>
<circle cx="305.40" cy="334.72" r="1.1" fill="#8fb2d6"/>
<circle cx="308.10" cy="334.72" r="1.1" fill="#8fb2d6"/>
<circle cx="310.80" cy="334.72" r="1.1" fill="#8fb2d6"/>
<circle cx="313.50" cy="334.72" r="1.1" fill="#8fb2d6"/>
<circle cx="302.70" cy="337.09" r="1.1" fill="#8fb2d6"/>
<circle cx="305.40" cy="337.09" r="1.1" fill="#8fb2d6"/>
<circle cx="308.10" cy="337.09" r="1.1" fill="#8fb2d6"/>
<circle cx="310.80" cy="337.09" r="1.1" fill="#8fb2d6"/>
<circle cx="300.00" cy="339.46" r="1.1" fill="#8fb2d6"/>
<circle cx="302.70" cy="339.46" r="1.1" fill="#8fb2d6"/>
<circle cx="305.40" cy="339.46" r="1.1" fill="#8fb2d6"/>
<circle cx="308.10" cy="339.46" r="1.1" fill="#8fb2d6"/>
<circle cx="310.80" cy="339.46" r="1.1" fill="#8fb2d6"/>
<circle cx="313.50" cy="339.46" r="1.1" fill="#8fb2d6"/>
<circle cx="297.30" cy="341.84" r="1.1" fill="#8fb2d6"/>
<circle cx="302.70" cy="341.84" r="1.1" fill="#8fb2d6"/>
<circle cx="305.40" cy="341.84" r="1.1" fill="#8fb2d6"/>
<circle cx="308.10" cy="341.84" r="1.1" fill="#8fb2d6"/>
<circle cx="310.80" cy="341.84" r="1.1" fill="#8fb2d6"/>
<circle cx="313.50" cy="341.84" r="1.1" fill="#8fb2d6"/>
<circle cx="297.30" cy="344.21" r="1.1" fill="#8fb2d6"/>
<circle cx="300.00" cy="344.21" r="1.1" fill="#8fb2d6"/>
<circle cx="305.40" cy="344.21" r="1.1" fill="#8fb2d6"/>
<circle cx="308.10" cy="344.21" r="1.1" fill="#8fb2d6"/>
<circle cx="310.80" cy="344.21" r="1.1" fill="#8fb2d6"/>
<circle cx="313.50" cy="344.21" r="1.1" fill="#8fb2d6"/>
<circle cx="297.30" cy="346.58" r="1.1" fill="#8fb2d6"/>
<circle cx="305.40" cy="346.58" r="1.1" fill="#8fb2d6"/>
<circle cx="313.50" cy="346.58" r="1.1" fill="#8fb2d6"/>
<circle cx="300.00" cy="348.95" r="1.1" fill="#8fb2d6"/>
<circle cx="302.70" cy="348.95" r="1.1" fill="#8fb2d6"/>
<circle cx="305.40" cy="348.95" r="1.1" fill="#8fb2d6"/>
<circle cx="310.80" cy="348.95" r="1.1" fill="#8fb2d6"/>
<circle cx="297.30" cy="351.32" r="1.1" fill="#8fb2d6"/>
<circle cx="300.00" cy="351.32" r="1.1" fill="#8fb2d6"/>
<circle cx="305.40" cy="351.32" r="1.1" fill="#8fb2d6"/>
<circle cx="308.10" cy="351.32" r="1.1" fill="#8fb2d6"/>
<circle cx="310.80" cy="351.32" r="1.1" fill="#8fb2d6"/>
<circle cx="297.30" cy="353.69" r="1.1" fill="#8fb2d6"/>
<circle cx="300.00" cy="353.69" r="1.1" fill="#8fb2d6"/>
<circle cx="305.40" cy="353.69" r="1.1" fill="#8fb2d6"/>
<circle cx="308.10" cy="353.69" r="1.1" fill="#8fb2d6"/>
<circle cx="310.80" cy="353.69" r="1.1" fill="#8fb2d6"/>
<circle cx="313.50" cy="353.69" r="1.1" fill="#8fb2d6"/>
<circle cx="300.00" cy="356.06" r="1.1" fill="#8fb2d6"/>
<circle cx="302.70" cy="356.06" r="1.1" fill="#8fb2d6"/>
<circle cx="305.40" cy="356.06" r="1.1" fill="#8fb2d6"/>
<circle cx="308.10" cy="356.06" r="1.1" fill="#8fb2d6"/>
<circle cx="313.50" cy="356.06" r="1.1" fill="#8fb2d6"/>
<circle cx="308.10" cy="358.43" r="1.1" fill="#8fb2d6"/>
<circle cx="302.70" cy="360.80" r="1.1" fill="#8fb2d6"/>
<circle cx="308.10" cy="360.80" r="1.1" fill="#8fb2d6"/>
<circle cx="310.80" cy="360.80" r="1.1" fill="#8fb2d6"/>
<circle cx="305.3" cy="274.7" r="0.75" fill="#1a3558"/>
<circle cx="305.3" cy="289.1" r="0.75" fill="#1a3558"/>
<circle cx="303.7" cy="297" r="0.75" fill="#1a3558"/>
<circle cx="306.9" cy="298.5" r="0.75" fill="#1a3558"/>
<circle cx="305.3" cy="301.7" r="0.75" fill="#1a3558"/>
<circle cx="305.3" cy="308.3" r="0.75" fill="#1a3558"/>
<circle cx="305.3" cy="311.2" r="0.75" fill="#1a3558"/>
<circle cx="305.5" cy="317" r="0.75" fill="#1a3558"/>
<circle cx="305.5" cy="318.4" r="0.75" fill="#1a3558"/>
<circle cx="305.5" cy="364.1" r="0.75" fill="#1a3558"/>
<circle cx="303.5" cy="367.5" r="0.75" fill="#1a3558"/>
<circle cx="307" cy="367.5" r="0.75" fill="#1a3558"/>
<circle cx="300.00" cy="320.50" r="0.72" fill="#1a3558"/>
<circle cx="302.70" cy="320.50" r="0.72" fill="#1a3558"/>
<circle cx="305.40" cy="320.50" r="0.72" fill="#1a3558"/>
<circle cx="310.80" cy="320.50" r="0.72" fill="#1a3558"/>
<circle cx="313.50" cy="320.50" r="0.72" fill="#1a3558"/>
<circle cx="302.70" cy="322.87" r="0.72" fill="#1a3558"/>
<circle cx="305.40" cy="322.87" r="0.72" fill="#1a3558"/>
<circle cx="308.10" cy="322.87" r="0.72" fill="#1a3558"/>
<circle cx="310.80" cy="322.87" r="0.72" fill="#1a3558"/>
<circle cx="313.50" cy="322.87" r="0.72" fill="#1a3558"/>
<circle cx="300.00" cy="325.24" r="0.72" fill="#1a3558"/>
<circle cx="305.40" cy="325.24" r="0.72" fill="#1a3558"/>
<circle cx="308.10" cy="325.24" r="0.72" fill="#1a3558"/>
<circle cx="310.80" cy="325.24" r="0.72" fill="#1a3558"/>
<circle cx="313.50" cy="325.24" r="0.72" fill="#1a3558"/>
<circle cx="302.70" cy="327.61" r="0.72" fill="#1a3558"/>
<circle cx="308.10" cy="327.61" r="0.72" fill="#1a3558"/>
<circle cx="313.50" cy="327.61" r="0.72" fill="#1a3558"/>
<circle cx="300.00" cy="329.98" r="0.72" fill="#1a3558"/>
<circle cx="308.10" cy="329.98" r="0.72" fill="#1a3558"/>
<circle cx="310.80" cy="329.98" r="0.72" fill="#1a3558"/>
<circle cx="300.00" cy="332.35" r="0.72" fill="#1a3558"/>
<circle cx="302.70" cy="332.35" r="0.72" fill="#1a3558"/>
<circle cx="305.40" cy="332.35" r="0.72" fill="#1a3558"/>
<circle cx="310.80" cy="332.35" r="0.72" fill="#1a3558"/>
<circle cx="302.70" cy="334.72" r="0.72" fill="#1a3558"/>
<circle cx="305.40" cy="334.72" r="0.72" fill="#1a3558"/>
<circle cx="308.10" cy="334.72" r="0.72" fill="#1a3558"/>
<circle cx="310.80" cy="334.72" r="0.72" fill="#1a3558"/>
<circle cx="313.50" cy="334.72" r="0.72" fill="#1a3558"/>
<circle cx="302.70" cy="337.09" r="0.72" fill="#1a3558"/>
<circle cx="305.40" cy="337.09" r="0.72" fill="#1a3558"/>
<circle cx="308.10" cy="337.09" r="0.72" fill="#1a3558"/>
<circle cx="310.80" cy="337.09" r="0.72" fill="#1a3558"/>
<circle cx="300.00" cy="339.46" r="0.72" fill="#1a3558"/>
<circle cx="302.70" cy="339.46" r="0.72" fill="#1a3558"/>
<circle cx="305.40" cy="339.46" r="0.72" fill="#1a3558"/>
<circle cx="308.10" cy="339.46" r="0.72" fill="#1a3558"/>
<circle cx="310.80" cy="339.46" r="0.72" fill="#1a3558"/>
<circle cx="313.50" cy="339.46" r="0.72" fill="#1a3558"/>
<circle cx="297.30" cy="341.84" r="0.72" fill="#1a3558"/>
<circle cx="302.70" cy="341.84" r="0.72" fill="#1a3558"/>
<circle cx="305.40" cy="341.84" r="0.72" fill="#1a3558"/>
<circle cx="308.10" cy="341.84" r="0.72" fill="#1a3558"/>
<circle cx="310.80" cy="341.84" r="0.72" fill="#1a3558"/>
<circle cx="313.50" cy="341.84" r="0.72" fill="#1a3558"/>
<circle cx="297.30" cy="344.21" r="0.72" fill="#1a3558"/>
<circle cx="300.00" cy="344.21" r="0.72" fill="#1a3558"/>
<circle cx="305.40" cy="344.21" r="0.72" fill="#1a3558"/>
<circle cx="308.10" cy="344.21" r="0.72" fill="#1a3558"/>
<circle cx="310.80" cy="344.21" r="0.72" fill="#1a3558"/>
<circle cx="313.50" cy="344.21" r="0.72" fill="#1a3558"/>
<circle cx="297.30" cy="346.58" r="0.72" fill="#1a3558"/>
<circle cx="305.40" cy="346.58" r="0.72" fill="#1a3558"/>
<circle cx="313.50" cy="346.58" r="0.72" fill="#1a3558"/>
<circle cx="300.00" cy="348.95" r="0.72" fill="#1a3558"/>
<circle cx="302.70" cy="348.95" r="0.72" fill="#1a3558"/>
<circle cx="305.40" cy="348.95" r="0.72" fill="#1a3558"/>
<circle cx="310.80" cy="348.95" r="0.72" fill="#1a3558"/>
<circle cx="297.30" cy="351.32" r="0.72" fill="#1a3558"/>
<circle cx="300.00" cy="351.32" r="0.72" fill="#1a3558"/>
<circle cx="305.40" cy="351.32" r="0.72" fill="#1a3558"/>
<circle cx="308.10" cy="351.32" r="0.72" fill="#1a3558"/>
<circle cx="310.80" cy="351.32" r="0.72" fill="#1a3558"/>
<circle cx="297.30" cy="353.69" r="0.72" fill="#1a3558"/>
<circle cx="300.00" cy="353.69" r="0.72" fill="#1a3558"/>
<circle cx="305.40" cy="353.69" r="0.72" fill="#1a3558"/>
<circle cx="308.10" cy="353.69" r="0.72" fill="#1a3558"/>
<circle cx="310.80" cy="353.69" r="0.72" fill="#1a3558"/>
<circle cx="313.50" cy="353.69" r="0.72" fill="#1a3558"/>
<circle cx="300.00" cy="356.06" r="0.72" fill="#1a3558"/>
<circle cx="302.70" cy="356.06" r="0.72" fill="#1a3558"/>
<circle cx="305.40" cy="356.06" r="0.72" fill="#1a3558"/>
<circle cx="308.10" cy="356.06" r="0.72" fill="#1a3558"/>
<circle cx="313.50" cy="356.06" r="0.72" fill="#1a3558"/>
<circle cx="308.10" cy="358.43" r="0.72" fill="#1a3558"/>
<circle cx="302.70" cy="360.80" r="0.72" fill="#1a3558"/>
<circle cx="308.10" cy="360.80" r="0.72" fill="#1a3558"/>
<circle cx="310.80" cy="360.80" r="0.72" fill="#1a3558"/>
<line x1="305.40" y1="328.80" x2="305.40" y2="351.50" stroke="#1e2a3a" stroke-width="0.81"/>
<line x1="291.80" y1="343.30" x2="319.00" y2="343.30" stroke="#1e2a3a" stroke-width="0.9"/>
<line x1="298.20" y1="351.50" x2="312.60" y2="351.50" stroke="#1e2a3a" stroke-width="0.9"/>
<line x1="298.20" y1="328.80" x2="312.60" y2="328.80" stroke="#1e2a3a" stroke-width="0.9"/>
</svg><div id="b"></div></div></body></html>
